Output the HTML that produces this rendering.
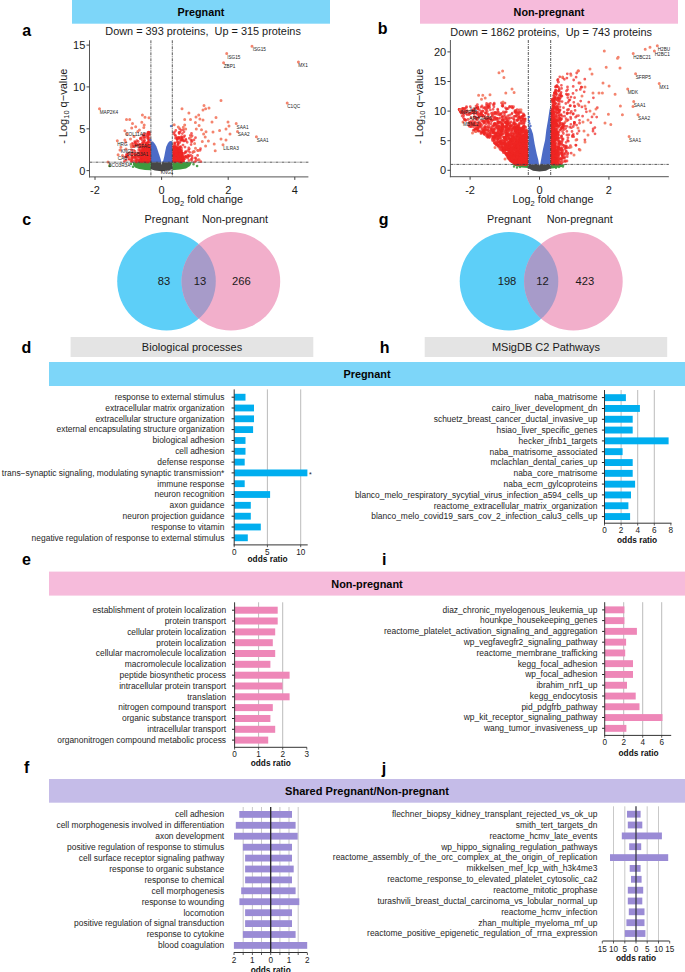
<!DOCTYPE html>
<html><head><meta charset="utf-8"><style>
html,body{margin:0;padding:0;background:#fff;}
body{width:685px;height:972px;overflow:hidden;}
svg{display:block;}
text{font-family:"Liberation Sans",sans-serif;}
</style></head><body>
<svg width="685" height="972" viewBox="0 0 685 972" font-family="Liberation Sans">
<rect width="685" height="972" fill="#fff"/>
<rect x="72.0" y="0.0" width="258.0" height="23.7" fill="#7dd6f9"/>
<text x="201.0" y="15.8" font-size="10.8" text-anchor="middle" font-weight="bold" fill="#050505" >Pregnant</text>
<rect x="420.0" y="0.0" width="258.0" height="23.7" fill="#f6bbdb"/>
<text x="549.0" y="15.8" font-size="10.8" text-anchor="middle" font-weight="bold" fill="#050505" >Non-pregnant</text>
<text x="22.3" y="35.5" font-size="16" text-anchor="start" font-weight="bold" fill="#000" >a</text>
<text x="377.7" y="34.2" font-size="16" text-anchor="start" font-weight="bold" fill="#000" >b</text>
<text x="22.3" y="224.8" font-size="16" text-anchor="start" font-weight="bold" fill="#000" >c</text>
<text x="378.7" y="225.0" font-size="16" text-anchor="start" font-weight="bold" fill="#000" >g</text>
<text x="21.4" y="352.8" font-size="16" text-anchor="start" font-weight="bold" fill="#000" >d</text>
<text x="379.7" y="352.6" font-size="16" text-anchor="start" font-weight="bold" fill="#000" >h</text>
<text x="21.9" y="565.2" font-size="16" text-anchor="start" font-weight="bold" fill="#000" >e</text>
<text x="382.1" y="565.2" font-size="16" text-anchor="start" font-weight="bold" fill="#000" >i</text>
<text x="24.0" y="772.6" font-size="16" text-anchor="start" font-weight="bold" fill="#000" >f</text>
<text x="381.8" y="773.6" font-size="16" text-anchor="start" font-weight="bold" fill="#000" >j</text>
<polygon points="150.9,162.2 161.2,162.2 161.7,165.0 162.2,162.2 172.3,162.2 172.3,169.3 168.0,170.5 161.5,171.2 155.0,170.5 150.9,169.3" fill="#474747"/>
<polygon points="150.9,141.5 153.0,141.5 155.0,144.0 156.4,146.4 158.0,151.0 159.7,156.3 161.0,160.5 161.3,162.2 150.9,162.2" fill="#4c6bc6"/>
<polygon points="162.0,162.2 163.3,160.5 164.3,156.3 165.3,151.0 166.3,146.4 168.0,143.0 169.6,141.2 171.0,141.0 172.3,141.5 172.3,162.2" fill="#4c6bc6"/>
<polygon points="139.0,162.2 139.5,153.0 142.0,148.0 146.0,145.0 150.9,144.0 150.9,162.2" fill="#ee1d24"/>
<polygon points="172.3,162.2 172.3,146.0 176.0,146.0 180.0,148.0 183.0,152.0 185.0,162.2" fill="#ee1d24"/>
<polygon points="133.0,162.2 150.9,162.2 150.9,170.2 145.0,170.0 139.0,169.0 135.0,167.5 133.0,165.0" fill="#3d9a3f"/>
<polygon points="172.3,162.2 192.0,162.2 190.0,166.0 186.0,168.5 180.0,169.5 172.3,170.2" fill="#3d9a3f"/>
<g stroke="#ef2522" stroke-width="2.8" stroke-linecap="round" stroke-opacity="0.72" fill="none">
<path d="M142.7 153.3h0M148.2 139.6h0M136.0 158.2h0M148.5 134.0h0M134.7 141.6h0M142.5 156.1h0M135.5 153.9h0M147.6 150.7h0M148.7 132.2h0M132.5 161.0h0M142.5 142.9h0M143.4 134.9h0M132.6 144.4h0M143.2 154.3h0M146.6 156.6h0M145.0 152.8h0M143.2 159.4h0M140.6 138.2h0M149.4 149.3h0M149.0 158.8h0M142.6 153.9h0M132.6 152.8h0M145.5 157.8h0M147.8 148.8h0M143.8 141.9h0"/>
<path d="M142.9 144.2h0M127.0 156.5h0M136.9 140.7h0M142.8 151.4h0M139.2 144.9h0M144.0 134.2h0M131.4 149.8h0M134.8 157.2h0M146.7 151.7h0M124.4 161.4h0M149.4 132.5h0M142.2 140.2h0M140.1 145.0h0M145.6 134.0h0M147.8 157.3h0M147.5 151.6h0M146.2 153.4h0M145.4 152.5h0M143.3 147.9h0M148.4 134.1h0M132.8 146.6h0M146.4 159.9h0M141.2 154.8h0M146.4 143.4h0M143.0 160.1h0"/>
<path d="M133.7 150.3h0M148.8 145.8h0M142.5 147.3h0M132.0 153.0h0M148.1 149.6h0M140.0 149.8h0M132.8 146.5h0M149.4 133.7h0M148.3 161.6h0M143.1 144.6h0M138.2 155.8h0M145.2 152.9h0M135.8 161.6h0M131.6 155.1h0M148.8 158.5h0M149.1 140.2h0M126.9 154.3h0M144.2 158.5h0M140.6 147.2h0M141.0 151.3h0M141.3 138.0h0M137.3 145.1h0M148.3 132.8h0M149.0 148.2h0M139.1 161.1h0"/>
<path d="M144.2 146.8h0M135.9 145.6h0M147.9 132.7h0M145.9 144.9h0M140.6 155.0h0M145.7 149.0h0M126.4 154.9h0M147.5 138.0h0M148.3 157.4h0M147.6 151.2h0M148.0 162.1h0M142.9 142.9h0M148.7 159.1h0M136.6 162.0h0M132.0 156.8h0M148.5 149.5h0M129.4 159.4h0M127.1 155.1h0M140.3 138.8h0M139.5 160.3h0M140.1 157.0h0M144.1 137.2h0M135.5 142.2h0M146.4 146.7h0M134.7 157.5h0"/>
<path d="M148.7 161.6h0M144.8 152.7h0M140.0 160.3h0M132.3 157.0h0M138.2 141.5h0M145.7 155.8h0M143.5 149.2h0M143.9 159.3h0M138.0 152.8h0M136.0 159.6h0M140.1 147.0h0M140.9 151.9h0M147.6 136.1h0M143.7 154.7h0M143.3 152.2h0M145.9 155.1h0M147.8 145.3h0M142.3 147.9h0M138.8 156.3h0M128.1 157.0h0M146.5 155.2h0M142.3 161.9h0M145.3 161.5h0M143.6 146.8h0M147.0 157.4h0"/>
<path d="M149.7 142.3h0M146.9 143.2h0M146.2 158.4h0M142.1 156.0h0M138.4 153.1h0M131.6 159.0h0M147.2 142.6h0M135.8 156.9h0M149.1 140.7h0M146.3 152.4h0M148.3 149.5h0M136.8 160.2h0M145.9 153.5h0M144.5 153.3h0M146.2 147.2h0M138.9 160.6h0M146.6 150.4h0M146.4 152.3h0M146.5 151.4h0M139.5 160.6h0M145.2 148.8h0M145.0 162.0h0M145.7 160.7h0M147.1 144.8h0M126.2 160.0h0"/>
<path d="M147.3 162.0h0M140.2 144.4h0M149.0 153.0h0M131.3 161.6h0M146.5 144.1h0M146.9 155.9h0M128.9 158.8h0M146.8 143.9h0M129.2 153.2h0M132.1 154.8h0M149.6 152.4h0M142.2 161.5h0M135.6 144.0h0M138.2 156.5h0M134.6 160.6h0M146.5 144.4h0M144.1 146.4h0M145.7 150.6h0M126.7 156.3h0M138.7 149.9h0M139.0 147.6h0M145.6 155.8h0M142.9 154.5h0M135.0 154.7h0M128.2 153.9h0"/>
<path d="M148.1 146.4h0M135.1 143.1h0M149.6 148.7h0M132.4 143.3h0M138.9 144.6h0M148.4 160.7h0M148.1 137.3h0M148.7 146.9h0M145.8 150.9h0M149.2 160.4h0M143.9 159.6h0M145.1 160.4h0M135.4 154.2h0M147.1 161.8h0M144.7 149.2h0M146.2 156.3h0M146.9 152.4h0M149.4 153.7h0M148.0 137.8h0M149.0 157.7h0M144.9 154.5h0M145.3 157.3h0M147.7 150.1h0M127.2 156.6h0M144.6 140.3h0"/>
<path d="M135.5 155.7h0M144.5 156.7h0M145.2 156.6h0M131.4 160.3h0M143.4 152.9h0M132.0 159.1h0M140.0 161.9h0M147.2 157.1h0M137.2 155.6h0M148.2 142.3h0M146.2 159.3h0M137.4 155.7h0M148.6 132.4h0M145.2 142.8h0M134.4 146.5h0M144.4 152.6h0M143.7 158.9h0M144.2 140.9h0M140.2 150.8h0M144.9 136.5h0M140.1 152.8h0M148.7 155.1h0M143.2 153.7h0M147.7 152.0h0M143.1 152.1h0"/>
<path d="M143.6 137.9h0M141.8 149.8h0M147.3 135.6h0M138.1 158.4h0M144.5 137.9h0M149.2 154.6h0M147.7 134.5h0M149.3 138.3h0M146.6 158.7h0M149.6 158.8h0M134.9 154.3h0M147.5 136.3h0M136.3 145.1h0M148.0 143.4h0M146.1 155.6h0M133.4 157.5h0M142.8 135.8h0M135.0 151.4h0M136.8 144.4h0M147.8 134.9h0M143.7 155.2h0M145.3 159.9h0M148.2 142.6h0M136.6 143.8h0M142.2 145.8h0"/>
<path d="M145.8 159.6h0M143.7 157.5h0M149.5 153.6h0M148.7 157.8h0M124.6 157.1h0M149.4 135.2h0M137.4 160.2h0M147.1 147.2h0M141.8 157.1h0M127.2 156.5h0"/>
</g>
<g stroke="#f26f55" stroke-width="3.0" stroke-linecap="round" stroke-opacity="0.85" fill="none">
<path d="M137.8 131.5h0M134.0 136.5h0M135.7 126.7h0M142.4 115.0h0M122.5 155.6h0M131.7 127.9h0M108.0 162.0h0M143.8 127.5h0M149.0 117.7h0M124.9 139.9h0M139.4 129.9h0M129.7 157.6h0M118.1 154.8h0M117.3 140.7h0M144.2 125.1h0M131.3 146.8h0M130.5 139.1h0M120.0 150.0h0M141.8 122.3h0M126.0 149.0h0M127.0 134.0h0M145.0 117.2h0M132.5 123.6h0M125.7 141.9h0M120.9 147.2h0"/>
<path d="M99.5 108.8h0M126.5 119.5h0M129.7 119.5h0M130.9 144.4h0M124.9 130.7h0"/>
</g>
<g stroke="#ef2522" stroke-width="2.8" stroke-linecap="round" stroke-opacity="0.72" fill="none">
<path d="M183.2 160.1h0M177.9 154.6h0M185.6 151.6h0M178.2 156.0h0M181.6 155.8h0M174.8 158.2h0M177.3 157.8h0M174.8 145.8h0M180.3 139.7h0M176.4 152.1h0M177.4 153.1h0M180.4 149.8h0M174.5 132.1h0M184.6 157.5h0M186.5 157.3h0M192.2 140.7h0M182.5 140.2h0M195.4 157.8h0M177.5 147.2h0M194.0 139.9h0M174.9 143.3h0M185.1 158.5h0M180.0 147.1h0M174.0 146.6h0M181.1 162.2h0"/>
<path d="M178.1 142.4h0M186.1 140.5h0M176.3 153.7h0M183.8 136.9h0M179.6 159.4h0M179.7 156.2h0M181.9 138.4h0M175.6 135.8h0M175.0 159.1h0M174.6 142.8h0M181.6 160.5h0M175.5 149.0h0M185.0 147.1h0M177.4 156.1h0M176.1 158.5h0M174.8 155.9h0M183.7 153.4h0M175.6 151.2h0M180.2 147.5h0M179.5 161.8h0M176.7 138.5h0M185.7 156.6h0M181.7 158.0h0M192.3 158.2h0M177.4 160.3h0"/>
<path d="M180.6 146.6h0M183.0 145.1h0M186.0 152.2h0M176.3 158.7h0M178.9 155.4h0M188.7 149.8h0M191.5 142.0h0M187.8 150.6h0M176.9 150.9h0M189.1 155.9h0M184.5 140.9h0M188.4 150.6h0M175.4 146.7h0M192.0 156.2h0M191.3 159.2h0M182.9 158.2h0M178.3 150.7h0M190.7 155.4h0M175.9 150.4h0M179.2 133.6h0M174.0 150.3h0M195.5 137.7h0M178.7 137.9h0M181.0 151.1h0M177.4 139.1h0"/>
<path d="M176.3 159.3h0M175.2 161.3h0M187.7 156.4h0M182.4 139.0h0M191.1 144.6h0M181.6 162.0h0M189.3 148.8h0M178.3 160.7h0M185.8 139.1h0M177.2 158.7h0M188.8 148.0h0M180.4 157.6h0M179.8 142.4h0M181.0 130.5h0M186.0 156.6h0M179.1 147.9h0M183.5 129.6h0M192.1 135.8h0M197.6 150.4h0M176.0 150.6h0M177.6 145.2h0M178.8 137.5h0M177.1 137.4h0M188.9 160.5h0M181.4 130.1h0"/>
<path d="M175.8 161.4h0M173.7 145.4h0M182.7 156.0h0M174.6 144.5h0M182.2 158.0h0M183.6 140.9h0M183.9 159.2h0M180.9 158.0h0M195.8 158.7h0M177.5 138.9h0M174.6 156.9h0M180.6 155.0h0M182.3 133.6h0M184.0 131.8h0M191.5 133.5h0M191.0 140.1h0M173.9 160.2h0M175.8 158.2h0M179.9 151.2h0M176.6 153.5h0M179.6 128.7h0M174.0 158.0h0M187.9 158.0h0M190.3 135.4h0M181.9 137.5h0"/>
<path d="M189.7 152.3h0M173.9 150.5h0M179.1 137.9h0M179.3 159.1h0M179.6 132.3h0M181.8 139.8h0M180.3 154.6h0M179.0 132.6h0M175.5 138.2h0M181.5 148.2h0M177.8 157.4h0M185.3 156.5h0M189.1 155.8h0M173.6 133.5h0M200.5 148.7h0M192.7 152.5h0M174.8 148.5h0M177.1 138.8h0M178.2 144.4h0M179.1 161.2h0M181.6 136.6h0M196.0 160.8h0M178.8 160.1h0M189.3 138.3h0M177.4 154.6h0"/>
<path d="M174.9 152.4h0M175.8 130.4h0M177.0 142.0h0M179.2 160.3h0M181.0 153.3h0M194.5 162.0h0M178.3 143.3h0M191.6 160.5h0M180.6 154.7h0M174.7 162.1h0M187.8 155.2h0M183.6 158.6h0M175.0 135.0h0M176.0 158.2h0M180.6 137.6h0M180.1 153.7h0M180.4 158.4h0M184.9 153.0h0M200.1 150.3h0M177.3 140.9h0M179.4 132.3h0M181.1 140.4h0M200.8 161.7h0M198.2 159.9h0M194.3 151.7h0"/>
<path d="M184.7 135.8h0M197.6 155.4h0M187.2 142.3h0M181.7 150.4h0M175.9 155.1h0"/>
</g>
<g stroke="#f26f55" stroke-width="3.0" stroke-linecap="round" stroke-opacity="0.85" fill="none">
<path d="M219.6 130.5h0M185.7 128.9h0M228.0 122.0h0M223.6 62.8h0M205.2 137.1h0M199.1 125.5h0M221.0 100.5h0M205.6 108.8h0M230.0 134.0h0M193.5 151.4h0M226.7 53.6h0M215.2 150.8h0M204.0 105.5h0M178.3 126.9h0M188.9 113.1h0M209.0 108.0h0M205.6 145.9h0M213.0 132.0h0M216.0 117.5h0M184.7 119.5h0M214.2 144.0h0M202.3 141.4h0M212.0 122.0h0M196.0 117.0h0M199.9 119.0h0"/>
<path d="M174.2 124.7h0M199.1 159.8h0M208.4 141.1h0M256.4 136.7h0M182.0 108.8h0M191.0 137.0h0M190.5 119.5h0M206.0 131.7h0M203.0 110.0h0M201.5 129.7h0M237.5 131.4h0M203.6 134.1h0M198.3 150.4h0M226.0 129.0h0M221.0 139.0h0M226.0 140.0h0M252.0 46.3h0M223.0 144.8h0M198.7 114.9h0M194.6 143.4h0M195.4 122.5h0M298.4 62.0h0M196.3 128.9h0M183.3 127.3h0M203.0 120.0h0"/>
<path d="M184.7 124.9h0M229.0 126.0h0M236.2 123.5h0M195.5 148.2h0M287.2 103.0h0"/>
</g>
<g stroke="#3d9a3f" stroke-width="2.6" stroke-linecap="round" stroke-opacity="0.9" fill="none">
<path d="M133.0 166.8h0M197.1 166.0h0M188.7 164.3h0M131.0 164.0h0M193.5 164.3h0M109.6 166.0h0"/>
</g>
<g stroke="#4c6bc6" stroke-width="2.4" stroke-linecap="round" stroke-opacity="0.9" fill="none">
<path d="M150.5 140.0h0M171.0 126.1h0"/>
</g>
<text x="252.7" y="51.3" font-size="4.7" text-anchor="start" fill="#222" >ISG15</text>
<text x="227.2" y="58.7" font-size="4.7" text-anchor="start" fill="#222" >ISG15</text>
<text x="223.7" y="67.8" font-size="4.7" text-anchor="start" fill="#222" >ZBP1</text>
<text x="298.2" y="67.0" font-size="4.7" text-anchor="start" fill="#222" >MX1</text>
<text x="287.2" y="108.1" font-size="4.7" text-anchor="start" fill="#222" >C1QC</text>
<text x="236.5" y="128.5" font-size="4.7" text-anchor="start" fill="#222" >SAA1</text>
<text x="237.7" y="136.4" font-size="4.7" text-anchor="start" fill="#222" >SAA2</text>
<text x="256.7" y="141.7" font-size="4.7" text-anchor="start" fill="#222" >SAA1</text>
<text x="223.2" y="149.8" font-size="4.7" text-anchor="start" fill="#222" >LILRA3</text>
<text x="99.7" y="114.0" font-size="4.7" text-anchor="start" fill="#222" >MAP2K4</text>
<text x="125.2" y="136.4" font-size="4.7" text-anchor="start" fill="#222" >COL11A2</text>
<text x="117.2" y="146.0" font-size="4.7" text-anchor="start" fill="#222" >HRG</text>
<text x="134.2" y="148.0" font-size="4.7" text-anchor="start" fill="#222" >HGFAC</text>
<text x="120.7" y="152.5" font-size="4.7" text-anchor="start" fill="#222" >KNG1</text>
<text x="126.7" y="155.5" font-size="4.7" text-anchor="start" fill="#222" >SCGB3A1</text>
<text x="117.7" y="160.0" font-size="4.7" text-anchor="start" fill="#222" >CA8</text>
<text x="108.4" y="167.3" font-size="4.7" text-anchor="start" fill="#222" >BCO3R3A</text>
<text x="160.7" y="174.1" font-size="4.7" text-anchor="start" fill="#222" >KNG1</text>
<line x1="150.9" y1="40.3" x2="150.9" y2="176.9" stroke="#3a3a3a" stroke-width="0.85" stroke-dasharray="3,1,1,1"/>
<line x1="172.3" y1="40.3" x2="172.3" y2="176.9" stroke="#3a3a3a" stroke-width="0.85" stroke-dasharray="3,1,1,1"/>
<line x1="89.5" y1="162.2" x2="308.4" y2="162.2" stroke="#3a3a3a" stroke-width="0.85" stroke-dasharray="3,1,1,1"/>
<line x1="89.5" y1="40.3" x2="89.5" y2="177.4" stroke="#555" stroke-width="1" />
<line x1="89.0" y1="176.9" x2="308.4" y2="176.9" stroke="#555" stroke-width="1" />
<line x1="86.5" y1="170.6" x2="89.5" y2="170.6" stroke="#444" stroke-width="1" />
<text x="85.3" y="174.5" font-size="11" text-anchor="end" fill="#1a1a1a" >0</text>
<line x1="86.5" y1="128.8" x2="89.5" y2="128.8" stroke="#444" stroke-width="1" />
<text x="85.3" y="132.7" font-size="11" text-anchor="end" fill="#1a1a1a" >5</text>
<line x1="86.5" y1="86.9" x2="89.5" y2="86.9" stroke="#444" stroke-width="1" />
<text x="85.3" y="90.8" font-size="11" text-anchor="end" fill="#1a1a1a" >10</text>
<line x1="86.5" y1="45.1" x2="89.5" y2="45.1" stroke="#444" stroke-width="1" />
<text x="85.3" y="49.0" font-size="11" text-anchor="end" fill="#1a1a1a" >15</text>
<line x1="95.0" y1="176.9" x2="95.0" y2="179.9" stroke="#444" stroke-width="1" />
<text x="95.0" y="193.7" font-size="11" text-anchor="middle" fill="#1a1a1a" >-2</text>
<line x1="161.6" y1="176.9" x2="161.6" y2="179.9" stroke="#444" stroke-width="1" />
<text x="161.6" y="193.7" font-size="11" text-anchor="middle" fill="#1a1a1a" >0</text>
<line x1="228.2" y1="176.9" x2="228.2" y2="179.9" stroke="#444" stroke-width="1" />
<text x="228.2" y="193.7" font-size="11" text-anchor="middle" fill="#1a1a1a" >2</text>
<line x1="294.8" y1="176.9" x2="294.8" y2="179.9" stroke="#444" stroke-width="1" />
<text x="294.8" y="193.7" font-size="11" text-anchor="middle" fill="#1a1a1a" >4</text>
<text x="0" y="0" font-size="11" text-anchor="middle" fill="#1a1a1a" transform="translate(67.2,106.2) rotate(-90)">- Log<tspan font-size="7.5" dy="1.5">10</tspan><tspan dy="-1.5"> q−value</tspan></text>
<text x="202.5" y="203.2" font-size="10.8" text-anchor="middle" fill="#1a1a1a">Log<tspan font-size="7.5" dy="2.5">2</tspan><tspan dy="-2.5"> fold change</tspan></text>
<text x="105.3" y="35.0" font-size="10.9" fill="#1a1a1a" xml:space="preserve">Down = 393 proteins,  Up = 315 proteins</text>
<polygon points="528.4,164.4 538.9,164.4 539.5,165.5 540.1,164.4 550.6,164.4 550.6,168.2 546.0,170.8 539.5,171.6 533.0,170.8 528.4,168.2" fill="#474747"/>
<polygon points="528.4,125.0 529.8,126.5 531.5,129.5 533.0,134.0 534.7,144.3 536.8,154.2 538.3,160.0 539.0,164.4 528.4,164.4" fill="#4c6bc6"/>
<polygon points="540.2,164.4 541.0,160.0 542.8,150.0 545.1,140.0 546.3,130.0 548.0,120.0 549.5,110.0 550.6,105.6 550.6,164.4" fill="#4c6bc6"/>
<polygon points="521.0,152.0 523.0,140.0 525.5,134.0 527.6,132.0 527.6,164.4 520.0,164.4" fill="#ee1d24"/>
<polygon points="550.6,164.4 550.6,110.0 552.5,110.0 554.0,120.0 555.0,140.0 556.0,164.4" fill="#ee1d24"/>
<polygon points="512.0,164.4 528.4,164.4 528.4,168.0 522.0,167.5 515.0,166.0" fill="#3d9a3f"/>
<polygon points="550.6,164.4 566.0,164.4 562.0,166.5 556.0,168.0 550.6,168.5" fill="#3d9a3f"/>
<g stroke="#ef2522" stroke-width="2.8" stroke-linecap="round" stroke-opacity="0.72" fill="none">
<path d="M519.9 146.9h0M526.9 164.0h0M519.5 127.8h0M526.4 142.9h0M486.6 105.1h0M498.6 130.4h0M516.2 128.0h0M498.5 122.5h0M495.5 134.1h0M523.9 135.1h0M495.6 128.3h0M526.3 132.8h0M497.0 136.4h0M525.7 157.7h0M508.8 137.9h0M471.6 113.1h0M522.0 150.6h0M514.0 137.0h0M500.0 138.1h0M484.7 122.2h0M517.6 162.3h0M526.2 141.3h0M472.7 110.1h0M523.0 127.3h0M525.2 156.5h0"/>
<path d="M499.6 128.0h0M506.0 131.2h0M525.2 160.1h0M487.9 122.3h0M521.7 141.1h0M499.5 133.5h0M521.2 145.3h0M506.6 144.8h0M524.1 145.3h0M507.2 134.3h0M515.3 130.9h0M509.8 158.4h0M520.9 155.1h0M513.5 155.7h0M514.7 159.5h0M520.0 123.6h0M480.9 111.4h0M524.1 135.9h0M519.3 148.1h0M476.6 120.2h0M526.0 155.6h0M513.2 155.6h0M526.9 159.9h0M520.2 156.2h0M515.5 142.0h0"/>
<path d="M519.5 119.0h0M523.8 114.9h0M513.3 156.1h0M510.7 156.5h0M487.5 119.6h0M516.4 116.3h0M519.3 164.1h0M466.5 106.7h0M489.5 105.7h0M507.5 156.3h0M525.5 153.4h0M509.2 153.4h0M518.9 129.9h0M523.8 147.9h0M505.0 138.2h0M506.2 143.5h0M524.4 161.4h0M525.5 156.7h0M483.7 130.5h0M522.6 157.6h0M521.5 144.6h0M504.9 142.1h0M509.7 143.7h0M509.7 125.8h0M516.8 142.6h0"/>
<path d="M520.2 162.3h0M508.3 152.9h0M523.6 161.6h0M520.6 155.2h0M525.6 133.2h0M520.0 128.3h0M520.0 158.1h0M516.0 131.8h0M524.6 164.2h0M501.1 127.6h0M515.8 142.9h0M487.6 137.3h0M522.0 146.4h0M494.6 112.3h0M505.3 137.9h0M518.6 128.3h0M524.5 157.5h0M509.1 118.5h0M488.2 134.8h0M511.7 151.8h0M495.5 118.8h0M510.3 158.1h0M517.6 162.7h0M510.3 125.9h0M520.9 149.8h0"/>
<path d="M486.1 110.6h0M523.7 137.5h0M518.1 157.4h0M518.3 163.9h0M522.8 149.0h0M508.4 153.7h0M526.4 130.1h0M515.6 162.6h0M517.5 161.4h0M518.2 153.6h0M526.3 162.3h0M509.0 159.0h0M515.4 164.1h0M523.7 155.6h0M509.1 144.9h0M522.9 154.2h0M526.9 151.0h0M494.4 118.3h0M519.7 160.9h0M512.4 141.5h0M518.4 159.2h0M512.5 141.6h0M524.1 145.0h0M520.5 163.1h0M494.0 139.9h0"/>
<path d="M497.5 114.4h0M500.6 144.3h0M513.3 154.1h0M525.7 142.8h0M508.5 155.7h0M498.0 121.7h0M464.5 110.9h0M488.1 132.4h0M521.7 157.2h0M522.7 158.6h0M517.0 126.4h0M510.6 158.2h0M507.8 127.6h0M488.7 106.5h0M525.2 164.3h0M517.5 152.1h0M512.9 108.1h0M517.5 120.1h0M478.3 130.9h0M490.4 133.3h0M514.1 163.5h0M524.9 149.2h0M502.6 124.7h0M505.7 138.7h0M502.0 127.7h0"/>
<path d="M521.9 150.3h0M519.2 157.3h0M500.2 134.9h0M516.2 113.6h0M502.8 125.5h0M516.9 150.6h0M517.9 149.4h0M523.1 160.1h0M519.0 161.3h0M514.4 121.8h0M487.1 134.1h0M507.0 145.2h0M512.0 159.5h0M518.1 162.7h0M519.4 161.8h0M520.3 150.4h0M460.4 112.0h0M478.3 131.0h0M526.6 147.4h0M522.6 120.8h0M523.3 161.7h0M505.6 143.3h0M517.0 164.2h0M516.9 141.4h0M514.6 139.7h0"/>
<path d="M524.2 123.0h0M523.7 158.9h0M521.8 153.4h0M486.7 135.9h0M525.9 161.3h0M486.4 136.0h0M519.9 158.1h0M506.8 155.4h0M521.5 130.1h0M511.8 129.8h0M524.5 156.6h0M524.1 129.4h0M505.5 111.9h0M524.6 153.6h0M527.0 137.8h0M515.0 155.5h0M487.4 136.5h0M519.8 134.7h0M514.8 161.1h0M466.5 107.6h0M517.8 152.6h0M525.3 149.1h0M526.6 160.7h0M522.7 162.7h0M511.8 107.6h0"/>
<path d="M522.8 163.6h0M523.6 155.1h0M510.5 153.5h0M501.5 142.4h0M517.6 146.4h0M519.5 138.5h0M522.5 158.9h0M524.5 162.5h0M519.0 140.9h0M523.4 155.9h0M526.1 150.1h0M464.6 108.8h0M502.0 147.2h0M525.6 157.3h0M518.5 155.8h0M509.2 150.6h0M510.7 149.4h0M518.8 162.3h0M519.1 162.2h0M524.4 160.3h0M523.3 152.3h0M525.3 159.4h0M507.6 129.0h0M488.6 104.2h0M526.2 132.2h0"/>
<path d="M512.0 140.3h0M525.4 152.2h0M523.8 128.7h0M513.7 158.4h0M518.5 145.9h0M510.8 156.6h0M525.8 155.6h0M526.6 146.9h0M507.1 123.6h0M501.2 131.4h0M522.3 144.6h0M517.4 159.7h0M516.6 154.3h0M523.7 151.2h0M525.3 133.3h0M523.5 148.9h0M503.8 139.7h0M484.9 133.1h0M474.2 130.1h0M504.0 143.0h0M515.6 160.5h0M525.4 164.2h0M484.7 127.1h0M512.8 144.1h0M518.3 150.0h0"/>
<path d="M520.8 141.0h0M508.7 142.5h0M518.4 161.0h0M522.5 156.3h0M512.1 159.6h0M502.1 129.3h0M524.1 126.3h0M499.8 121.9h0M511.6 148.0h0M493.7 138.2h0M512.8 151.0h0M527.0 158.3h0M525.7 163.5h0M497.6 144.9h0M525.2 159.4h0M517.2 162.7h0M520.3 162.7h0M521.5 136.1h0M525.9 157.9h0M519.3 133.3h0M494.3 142.9h0M496.0 126.9h0M501.5 113.4h0M504.4 138.3h0M486.6 129.8h0"/>
<path d="M502.0 144.5h0M524.3 163.4h0M517.1 160.1h0M523.5 147.3h0M522.3 152.0h0M478.3 125.5h0M473.2 130.4h0M518.6 148.2h0M520.3 145.2h0M516.4 155.2h0M514.7 126.8h0M518.8 142.6h0M481.0 107.1h0M526.2 162.5h0M512.2 152.1h0M461.1 112.0h0M506.9 108.8h0M526.2 136.2h0M513.2 152.0h0M514.7 159.2h0M523.1 141.7h0M492.5 113.0h0M526.6 130.6h0M525.4 147.5h0M517.7 153.2h0"/>
<path d="M525.1 120.9h0M526.8 133.0h0M524.2 142.5h0M527.1 156.8h0M516.2 145.8h0M475.9 108.4h0M518.2 159.3h0M523.7 160.9h0M520.5 138.7h0M512.9 137.7h0M473.8 124.0h0M471.3 126.6h0M497.3 143.7h0M501.0 131.2h0M522.9 132.1h0M518.3 162.5h0M519.2 162.3h0M521.8 155.3h0M506.5 136.2h0M515.0 147.5h0M507.6 149.3h0M512.7 153.7h0M517.7 164.1h0M517.0 159.9h0M526.1 153.9h0"/>
<path d="M502.1 133.1h0M501.5 135.7h0M525.7 152.7h0M525.3 150.0h0M505.6 140.4h0M497.7 109.2h0M498.4 136.6h0M519.1 126.3h0M503.7 148.3h0M478.7 117.3h0M466.4 113.9h0M480.2 124.9h0M484.7 131.3h0M525.7 150.7h0M526.5 135.7h0M513.3 162.5h0M523.7 153.3h0M509.7 154.5h0M522.3 148.2h0M523.5 155.0h0M496.1 133.3h0M501.6 131.2h0M488.4 118.3h0M484.2 122.7h0M516.0 159.2h0"/>
<path d="M469.0 114.6h0M502.5 147.7h0M505.8 126.8h0M517.5 157.8h0M516.3 140.7h0M521.1 147.9h0M524.5 161.0h0M526.9 136.3h0M508.9 156.3h0M497.9 142.3h0M511.3 157.3h0M498.0 121.9h0M525.6 161.0h0M483.4 132.0h0M485.2 118.4h0M515.1 144.7h0M478.8 114.1h0M525.4 164.3h0M477.9 129.3h0M523.3 139.5h0M508.1 108.5h0M474.7 122.4h0M515.1 111.6h0M525.3 153.3h0M523.9 149.2h0"/>
<path d="M489.2 118.6h0M517.3 135.9h0M513.4 153.2h0M527.0 155.5h0M518.2 146.5h0M512.8 154.3h0M483.5 130.0h0M477.6 107.8h0M473.3 111.8h0M510.0 139.2h0M513.8 148.9h0M521.8 146.1h0M514.3 161.7h0M502.6 150.9h0M496.8 133.5h0M485.0 116.4h0M510.8 158.6h0M524.4 134.6h0M508.3 156.3h0M514.2 149.1h0M518.6 112.1h0M487.5 121.9h0M512.4 131.4h0M497.3 125.4h0M494.1 130.3h0"/>
<path d="M517.7 130.2h0M519.7 143.5h0M480.4 126.7h0M507.6 121.0h0M525.7 148.3h0M516.4 156.8h0M477.4 104.7h0M525.7 160.3h0M510.2 150.4h0M509.0 156.1h0M477.8 107.3h0M514.1 127.5h0M523.6 138.9h0M475.1 122.6h0M517.6 151.1h0M507.1 129.9h0M506.5 109.1h0M521.2 120.7h0M489.0 121.6h0M524.0 164.4h0M525.7 142.5h0M509.5 130.0h0M526.1 162.1h0M508.5 157.5h0M504.0 149.3h0"/>
<path d="M521.3 155.1h0M490.2 136.4h0M488.9 136.9h0M522.4 163.3h0M519.0 161.9h0M516.3 139.3h0M525.1 145.0h0M525.6 146.8h0M477.2 119.0h0M510.2 152.3h0M506.9 154.7h0M520.3 136.9h0M510.6 135.8h0M501.9 131.3h0M523.3 148.7h0M524.0 142.6h0M523.4 160.3h0M523.6 143.7h0M484.0 128.2h0M517.3 151.8h0M521.9 152.5h0M499.9 129.7h0M508.8 136.7h0M514.3 153.2h0M525.1 146.0h0"/>
<path d="M508.2 146.8h0M476.3 125.9h0M464.9 119.8h0M509.4 147.5h0M491.4 128.8h0M517.4 120.7h0M502.6 150.1h0M499.7 136.3h0M508.8 145.5h0M494.4 141.4h0M521.0 130.9h0M525.7 164.2h0M520.5 159.0h0M523.7 144.2h0M517.4 155.5h0M482.8 121.0h0M518.7 151.7h0M523.8 122.4h0M498.6 122.0h0M487.3 111.3h0M495.5 138.3h0M525.2 140.7h0M501.6 143.7h0M522.2 159.2h0M521.6 153.9h0"/>
<path d="M502.9 105.9h0M504.5 152.8h0M523.4 163.6h0M513.8 156.6h0M502.0 123.9h0M471.8 124.0h0M514.1 154.6h0M475.9 123.7h0M510.2 145.2h0M525.7 160.5h0M513.5 147.4h0M506.7 154.4h0M521.7 141.7h0M502.0 120.0h0M507.8 148.6h0M518.2 145.8h0M503.3 148.5h0M505.5 147.3h0M505.9 117.0h0M510.4 135.1h0M515.5 149.3h0M485.3 129.6h0M527.0 158.4h0M521.4 164.1h0M520.9 157.6h0"/>
<path d="M515.0 146.2h0M508.0 148.6h0M465.0 108.5h0M474.9 129.3h0M509.6 115.1h0M512.6 159.3h0M506.2 148.0h0M523.4 136.0h0M460.0 110.9h0M523.9 156.4h0M524.4 150.4h0M522.8 160.7h0M510.1 141.3h0M518.4 127.6h0M505.8 149.0h0M514.2 162.4h0M514.3 122.9h0M521.1 159.8h0M517.1 109.6h0M511.2 155.0h0M498.8 138.1h0M526.4 155.6h0M522.5 163.2h0M507.5 149.8h0M525.7 161.4h0"/>
<path d="M517.3 138.5h0M493.3 132.1h0M518.0 151.3h0M518.8 152.9h0M486.4 118.6h0M489.3 126.5h0M501.8 116.0h0M517.8 145.6h0M487.8 126.4h0M524.1 115.2h0M520.7 154.8h0M483.7 123.4h0M524.2 162.1h0M504.8 137.4h0M521.4 156.7h0M493.7 128.7h0M514.9 131.2h0M502.4 141.0h0M505.0 141.1h0M522.0 139.6h0M517.6 136.0h0M505.2 122.6h0M510.2 142.3h0M523.5 163.6h0M480.2 131.2h0"/>
<path d="M516.3 152.7h0M480.0 126.1h0M517.0 136.7h0M525.4 140.4h0M488.3 119.5h0M525.8 154.5h0M523.5 139.9h0M517.1 112.0h0M481.4 114.4h0M518.8 157.5h0M523.0 151.6h0M506.6 153.5h0M497.9 110.1h0M519.3 123.3h0M524.7 149.4h0M507.4 123.4h0M521.4 118.2h0M497.5 128.8h0M513.0 147.7h0M493.2 132.9h0M518.4 159.4h0M514.9 158.8h0M526.0 145.0h0M475.5 129.2h0M525.0 153.1h0"/>
<path d="M518.7 114.2h0M520.8 160.6h0M498.6 112.5h0M520.0 160.7h0M526.9 141.6h0M521.7 134.8h0M521.3 146.3h0M526.5 145.5h0M510.8 145.1h0M519.5 155.1h0M524.8 152.5h0M505.3 152.7h0M524.7 154.6h0M504.2 126.8h0M520.3 157.3h0M520.0 140.7h0M490.7 119.4h0M526.9 145.3h0M516.3 161.5h0M505.6 149.4h0M520.8 132.5h0M520.0 163.2h0M504.5 112.8h0M510.3 138.6h0M512.4 148.8h0"/>
<path d="M494.7 136.6h0M526.4 156.0h0M525.0 160.6h0M526.5 163.7h0M470.0 123.7h0M494.3 131.7h0M512.2 161.9h0M526.7 154.3h0M524.9 140.1h0M513.3 144.1h0M515.6 156.9h0M518.4 161.7h0M527.0 163.7h0M525.5 158.1h0M511.7 114.1h0M523.3 119.0h0M495.2 113.7h0M515.2 143.4h0M524.3 119.1h0M491.8 130.3h0M523.3 155.5h0M511.3 155.2h0M493.5 131.4h0M524.1 120.3h0M506.5 119.0h0"/>
<path d="M510.6 143.9h0M524.7 160.5h0M518.3 152.7h0M523.2 157.4h0M490.4 103.4h0M505.9 123.7h0M519.1 150.4h0M518.0 158.4h0M459.2 109.5h0M515.7 110.4h0M506.2 154.4h0M495.6 112.4h0M483.2 115.9h0M514.9 146.7h0M520.8 161.3h0M520.1 163.5h0M508.5 156.9h0M525.1 143.9h0M487.8 136.0h0M478.9 121.7h0M507.6 157.6h0M489.4 134.1h0M517.2 141.9h0M511.0 144.1h0M511.0 155.6h0"/>
<path d="M521.3 161.9h0M514.4 153.4h0M521.8 153.5h0M522.5 136.9h0M516.0 148.9h0M520.9 152.7h0M515.6 147.2h0M507.5 149.9h0M521.2 162.0h0M488.5 130.4h0M524.6 156.4h0M515.3 131.5h0M505.6 153.7h0M507.7 155.0h0M502.8 103.9h0M502.0 126.3h0M520.5 117.2h0M523.9 158.3h0M507.3 121.8h0M519.9 150.0h0M483.2 121.5h0M519.3 110.0h0M517.3 142.3h0M463.4 113.2h0M510.0 154.5h0"/>
<path d="M503.1 148.7h0M522.3 150.3h0M525.5 162.5h0M470.7 126.6h0M509.9 156.1h0M510.7 133.1h0M516.6 149.4h0M485.4 107.2h0M520.8 129.5h0M516.0 147.6h0M503.0 133.8h0M471.8 125.3h0M518.7 164.4h0M521.8 163.4h0M525.3 161.9h0M524.0 155.2h0M508.4 142.5h0M493.9 113.8h0M519.9 156.0h0M510.1 151.8h0M511.2 141.4h0M526.0 137.4h0M518.5 161.5h0M522.5 136.0h0M515.9 124.0h0"/>
<path d="M519.1 159.1h0M493.2 104.7h0M515.1 148.5h0M489.6 107.6h0M477.8 127.9h0M520.8 150.3h0M510.7 151.4h0M481.0 133.6h0M524.6 161.9h0M506.4 146.8h0M502.0 128.3h0M522.2 152.9h0M514.6 160.5h0M513.2 148.1h0M469.3 122.4h0M503.9 140.9h0M479.2 116.5h0M508.2 149.3h0M516.1 140.8h0M516.3 161.9h0M514.2 123.5h0M508.8 128.8h0M498.4 123.3h0M508.5 158.3h0M471.2 113.1h0"/>
<path d="M509.2 144.6h0M525.8 147.1h0M482.0 105.8h0M521.5 158.9h0M515.8 149.4h0M509.4 150.8h0M500.9 134.5h0M506.1 138.6h0M513.9 161.0h0M499.7 147.2h0M521.0 142.7h0M507.1 134.7h0M469.5 126.4h0M510.3 139.5h0M487.6 127.7h0M517.6 153.7h0M498.9 134.0h0M524.4 157.6h0M525.9 158.8h0M470.2 106.6h0M499.6 130.0h0M523.3 158.0h0M519.1 142.3h0M460.3 111.2h0M497.7 135.4h0"/>
<path d="M523.7 150.6h0M510.4 118.0h0M525.0 134.6h0M516.0 127.4h0M505.0 103.1h0M524.5 157.2h0M523.9 159.3h0M510.7 160.7h0M521.6 154.5h0M513.5 122.8h0M518.6 159.3h0M526.5 157.5h0M498.4 145.4h0M514.8 130.1h0M513.6 133.1h0M506.5 121.9h0M501.2 134.6h0M525.7 164.4h0M482.0 132.6h0M495.3 123.9h0M516.5 135.2h0M520.2 162.5h0M475.7 128.6h0M477.5 112.4h0M509.9 147.1h0"/>
<path d="M525.7 146.3h0M523.8 153.9h0M525.5 136.0h0M518.4 161.2h0M520.4 160.4h0M494.6 124.2h0M525.0 143.8h0M509.0 148.1h0M503.9 148.5h0M518.9 161.7h0M477.0 130.4h0M509.7 146.5h0M520.7 136.6h0M515.8 154.1h0M525.3 130.7h0M525.4 138.0h0M511.7 125.1h0M515.8 151.3h0M479.4 126.3h0M474.0 109.0h0M525.0 163.0h0M524.2 150.7h0M526.4 162.6h0M523.2 153.1h0M503.3 111.9h0"/>
<path d="M515.3 159.4h0M514.1 119.8h0M487.2 135.1h0M477.3 111.9h0M523.6 157.1h0M522.3 156.3h0M502.7 149.5h0M517.6 124.8h0M518.9 117.2h0M486.5 120.1h0M509.3 153.8h0M506.1 153.4h0M503.3 152.5h0M526.4 150.7h0M517.5 150.1h0M512.2 136.5h0M511.7 106.3h0M524.3 163.2h0M512.1 136.5h0M488.2 136.1h0M505.9 133.1h0M502.5 143.2h0M517.9 148.0h0M523.3 158.9h0M509.9 146.8h0"/>
<path d="M514.4 160.6h0M511.5 153.7h0M519.4 150.0h0M501.4 148.2h0M508.7 147.5h0M523.4 147.9h0M523.4 160.4h0M515.8 151.3h0M514.3 139.2h0M473.3 120.5h0M505.4 118.5h0M505.2 146.1h0M496.3 144.6h0M482.1 129.7h0M504.6 144.3h0M523.7 160.2h0M516.1 130.2h0M485.0 126.5h0M496.8 119.8h0M509.8 157.5h0M498.0 145.6h0M513.1 158.6h0M512.3 136.0h0M523.0 129.6h0M499.5 115.0h0"/>
<path d="M515.4 144.9h0M509.3 152.7h0M487.7 120.8h0M507.8 154.8h0M492.4 126.2h0M473.7 110.8h0M506.3 126.5h0M516.7 152.7h0M511.8 148.0h0M515.2 148.5h0M506.8 140.2h0M524.9 142.5h0M505.5 150.2h0M515.3 162.3h0M496.6 134.8h0M513.5 135.8h0M509.9 155.8h0M525.1 139.5h0M521.9 128.4h0M499.4 142.1h0M512.2 158.2h0M515.8 112.4h0M514.9 137.6h0M492.7 140.8h0M523.0 154.0h0"/>
<path d="M514.6 154.3h0M502.2 129.3h0M477.7 114.7h0M481.9 125.5h0M521.4 147.3h0M502.0 126.3h0M488.3 114.1h0M517.2 146.9h0M511.9 143.9h0M523.7 153.9h0M505.1 133.5h0M522.3 158.4h0M517.8 126.9h0M517.8 148.0h0M520.6 138.3h0M526.9 151.5h0M485.5 108.9h0M525.2 157.4h0M495.3 136.7h0M518.1 152.5h0M525.9 141.5h0M508.8 130.8h0M526.1 163.2h0M510.0 122.8h0M462.6 109.3h0"/>
<path d="M521.7 122.8h0M521.9 148.1h0M506.4 111.8h0M516.3 155.7h0M525.1 159.1h0M493.2 131.8h0M518.3 154.7h0M502.9 128.2h0M524.2 157.8h0M525.8 138.0h0M518.9 138.6h0M493.6 133.4h0M520.9 158.2h0M516.8 145.3h0M520.1 134.5h0M508.5 123.1h0M525.2 136.0h0M523.6 155.9h0M477.7 107.2h0M513.2 128.0h0M526.2 131.7h0M511.5 161.5h0M511.9 136.9h0M518.8 145.8h0M521.6 161.9h0"/>
<path d="M525.5 147.4h0M521.7 140.1h0M525.6 135.8h0M525.9 138.0h0M516.0 160.8h0M463.7 115.5h0M506.2 126.8h0M516.9 164.3h0M500.8 113.8h0M509.2 128.9h0M472.1 123.0h0M521.2 142.0h0M524.8 154.0h0M517.5 154.1h0M512.0 154.0h0M520.6 145.0h0M522.5 131.8h0M523.9 163.8h0M489.6 131.6h0M517.4 133.0h0M519.7 148.6h0M518.0 129.4h0M502.7 106.3h0M505.5 122.5h0M465.8 120.4h0"/>
<path d="M512.2 157.4h0M518.9 142.7h0M525.3 148.6h0M519.6 128.1h0M488.3 115.5h0M511.0 122.0h0M514.1 116.5h0M492.6 138.2h0M524.2 151.5h0M495.2 123.4h0M523.0 128.7h0M516.1 162.2h0M523.4 160.2h0M519.7 163.1h0M518.5 163.6h0M516.3 160.4h0M459.5 109.7h0M482.6 115.2h0M491.4 121.6h0M522.1 150.4h0M505.9 150.2h0M466.8 111.7h0M520.2 118.2h0M517.9 130.9h0M523.0 157.2h0"/>
<path d="M517.5 137.0h0M500.4 141.4h0M511.5 142.2h0M517.3 150.7h0M507.6 124.4h0M516.1 161.3h0M525.9 153.7h0M518.8 133.3h0M511.5 158.1h0M464.9 119.7h0M503.0 147.0h0M504.6 121.8h0M511.3 160.8h0M515.6 162.8h0M526.1 161.5h0M506.1 148.1h0M521.9 123.6h0M524.2 157.7h0M510.7 156.7h0M526.1 158.7h0M465.5 119.9h0M526.3 155.0h0M525.8 163.8h0M519.8 159.9h0M526.7 155.7h0"/>
<path d="M526.5 159.7h0M518.9 125.2h0M522.4 161.7h0M502.5 119.8h0M522.1 164.2h0M526.3 148.2h0M515.2 164.1h0M510.0 139.8h0M526.1 163.2h0M515.7 159.7h0M509.1 142.0h0M486.0 132.6h0M505.4 137.4h0M499.6 142.0h0M478.0 108.7h0M493.0 136.7h0M523.1 139.4h0M512.4 129.1h0M515.8 127.8h0M511.8 133.6h0M525.2 147.1h0M510.9 143.6h0M520.8 149.2h0M519.3 130.6h0M477.7 124.3h0"/>
<path d="M516.8 147.4h0M482.6 111.0h0M488.1 107.7h0M519.7 145.4h0M508.5 121.0h0M511.1 149.5h0M521.4 141.0h0M504.1 137.6h0M505.5 107.8h0M525.8 158.2h0M480.2 123.1h0M520.4 140.0h0M520.7 146.7h0M502.6 124.3h0M514.1 160.2h0M509.4 145.9h0M516.6 120.2h0M518.7 156.3h0M520.4 163.4h0M525.2 154.4h0M519.2 149.6h0M474.2 114.2h0M515.9 156.6h0M484.4 108.1h0M500.0 132.3h0"/>
<path d="M497.5 139.6h0M516.0 133.0h0M521.3 142.3h0M491.2 119.8h0M512.0 141.4h0M519.2 163.2h0M526.9 153.9h0M514.8 147.9h0M492.8 136.9h0M521.1 145.2h0M509.6 106.4h0M510.1 145.9h0M514.6 124.6h0M517.5 151.6h0M522.5 127.8h0M524.5 132.3h0M526.3 161.2h0M514.2 160.9h0M498.0 139.3h0M495.2 143.9h0M526.8 153.1h0M525.4 150.2h0M522.7 155.4h0M513.3 145.3h0M493.5 125.8h0"/>
<path d="M524.0 137.9h0M525.8 161.9h0M491.6 131.1h0M515.4 162.4h0M513.8 148.0h0M522.2 161.8h0M516.7 129.9h0M515.9 136.5h0M525.5 133.6h0M519.9 131.9h0M525.5 127.7h0M521.7 141.6h0M507.2 143.9h0M523.3 141.2h0M482.1 131.9h0M526.2 160.1h0M500.0 134.6h0M526.5 153.6h0M525.7 127.5h0M513.8 161.5h0M515.4 137.4h0M481.1 112.8h0M500.9 131.8h0M517.7 130.8h0M526.0 133.3h0"/>
<path d="M510.9 149.1h0M523.8 143.0h0M468.7 125.3h0M463.4 113.6h0M509.2 148.2h0M503.6 143.5h0M521.8 159.4h0M522.8 134.5h0M514.8 130.2h0M522.7 141.8h0M510.7 159.5h0M516.9 126.1h0M512.2 138.6h0M523.5 126.3h0M474.8 125.3h0M515.2 139.8h0M523.1 150.7h0M498.5 118.8h0M525.5 137.1h0M515.0 112.2h0M459.8 109.6h0M485.4 121.1h0M520.8 147.9h0M508.8 134.2h0M499.7 144.0h0"/>
<path d="M473.1 124.9h0M519.5 139.8h0M525.2 147.9h0M518.5 149.4h0M508.0 135.6h0M495.3 133.3h0M500.9 149.9h0M513.1 154.3h0M522.3 116.4h0M503.8 131.7h0M526.2 161.6h0M516.3 157.5h0M525.4 161.7h0M521.0 152.7h0M524.9 159.5h0M525.1 140.1h0M519.1 140.0h0M506.4 148.5h0M523.5 159.8h0M517.3 161.2h0M523.6 142.3h0M518.9 146.5h0M520.1 141.7h0M516.6 163.0h0M513.8 141.4h0"/>
<path d="M517.3 164.0h0M491.4 113.5h0M526.4 136.6h0M519.0 139.3h0M489.5 137.5h0M490.8 132.8h0M509.0 148.2h0M500.8 122.1h0M507.5 153.9h0M490.5 135.5h0M523.5 163.2h0M523.0 115.9h0M459.1 109.4h0M499.5 142.6h0M522.9 155.7h0M504.2 137.0h0M483.6 131.0h0M494.5 125.2h0M519.0 133.5h0M516.2 159.5h0M517.9 119.8h0M519.3 131.6h0M516.7 155.7h0M527.0 136.7h0M508.3 147.6h0"/>
<path d="M512.5 153.7h0M494.2 104.3h0M491.3 117.3h0M515.6 137.5h0M523.9 145.3h0M501.9 123.7h0M523.6 155.3h0M518.5 113.1h0M512.2 140.4h0M519.2 158.8h0M516.7 158.9h0M512.2 159.9h0M514.0 133.9h0M516.5 132.8h0M494.9 132.8h0M516.3 143.5h0M518.4 133.4h0M512.2 113.1h0M525.2 154.1h0M463.2 112.0h0M505.7 131.5h0M506.9 137.5h0M511.6 139.7h0M506.5 123.1h0M526.0 163.4h0"/>
<path d="M525.5 154.2h0M474.3 112.4h0M504.5 144.0h0M516.5 149.0h0M521.5 132.8h0M513.4 158.3h0M461.3 113.2h0M520.7 162.6h0M520.7 121.2h0M494.7 136.9h0M493.9 106.8h0M515.7 153.8h0M517.6 141.6h0M521.2 147.9h0M521.7 162.2h0M524.4 135.2h0M517.9 161.7h0M518.2 161.3h0M522.1 156.1h0M474.3 117.0h0M519.8 162.2h0M523.1 149.7h0M489.0 127.8h0M500.4 122.8h0M519.9 159.6h0"/>
<path d="M518.5 152.9h0M513.9 118.9h0M500.9 130.7h0M522.0 147.5h0M486.3 130.1h0M521.8 156.7h0M506.4 135.5h0M525.7 148.6h0M525.5 161.4h0M497.6 132.6h0M516.8 144.0h0M509.8 134.8h0M525.3 160.7h0M510.7 134.1h0M492.3 139.4h0M501.7 146.5h0M482.4 116.6h0M491.3 129.0h0M461.5 110.9h0M521.4 155.9h0M481.7 128.2h0M512.4 155.7h0M508.3 142.7h0M480.9 132.3h0M505.0 144.9h0"/>
<path d="M502.8 121.6h0M509.7 155.1h0M526.4 150.3h0M518.9 153.0h0M518.9 136.6h0M525.6 162.5h0M523.2 160.7h0M509.9 149.2h0M521.9 129.5h0M526.2 131.6h0M493.1 109.3h0M467.3 114.7h0M519.2 140.3h0M517.7 162.7h0M504.1 149.6h0M526.8 154.7h0M510.2 160.4h0M513.0 160.6h0M524.3 148.0h0M484.0 133.6h0M476.0 106.1h0M514.3 153.0h0M501.8 143.1h0M488.8 122.5h0M524.3 163.3h0"/>
<path d="M523.9 159.5h0M503.3 137.1h0M469.7 114.2h0M503.0 143.1h0M476.0 128.4h0M519.3 164.1h0M513.5 123.9h0M511.7 150.7h0M506.2 128.0h0M515.0 153.9h0M501.9 143.7h0M523.8 162.5h0M518.3 155.9h0M521.9 138.1h0M525.1 155.6h0M518.3 147.0h0M524.4 160.8h0M513.8 149.0h0M502.6 124.5h0M480.6 123.9h0M510.0 148.0h0M516.1 132.5h0M522.2 144.6h0M525.7 159.8h0M486.4 113.1h0"/>
<path d="M520.3 159.7h0M512.3 150.6h0M526.1 151.0h0M512.9 156.9h0M518.1 152.5h0M515.0 127.5h0M519.2 144.4h0M521.9 147.8h0M521.2 112.4h0M510.7 150.0h0M483.1 107.6h0M516.5 115.8h0M502.4 116.8h0M516.9 152.6h0M521.0 159.0h0M522.8 119.4h0M504.8 129.3h0M520.7 149.2h0M526.3 158.6h0M520.7 142.4h0M521.1 145.5h0M496.4 141.8h0M513.8 146.1h0M497.9 139.0h0M520.7 162.4h0"/>
<path d="M488.2 105.8h0M496.4 124.1h0M523.7 161.1h0M471.1 118.0h0M510.3 158.5h0M520.2 159.7h0M523.8 160.8h0M523.8 140.3h0M509.7 107.1h0M517.1 139.0h0M498.3 128.9h0M508.8 128.4h0M512.8 160.6h0M498.8 147.2h0M513.4 158.6h0M523.9 159.3h0M497.7 131.1h0M526.6 163.9h0M502.4 134.1h0M513.0 140.7h0M525.1 118.8h0M502.5 117.4h0M508.8 147.9h0M491.0 123.8h0M506.9 133.2h0"/>
<path d="M464.3 119.4h0M516.2 139.4h0M517.9 130.9h0M498.6 135.9h0M511.1 146.0h0M493.0 132.7h0M523.9 161.0h0M526.0 162.5h0M517.5 149.8h0M492.5 120.1h0M527.0 148.7h0M522.1 158.5h0M503.1 151.1h0M522.3 116.5h0M495.7 125.3h0M481.5 120.7h0M508.0 132.0h0M526.7 163.3h0M503.2 125.6h0M520.4 162.1h0M512.0 148.1h0M520.6 159.0h0M525.9 162.0h0M522.8 117.9h0M523.6 131.3h0"/>
<path d="M513.5 146.1h0M518.7 163.8h0M515.1 159.8h0M507.7 149.8h0M507.8 138.4h0M508.6 152.1h0M517.8 144.5h0M524.2 150.4h0M520.8 147.1h0M515.1 116.2h0M526.4 156.9h0M515.8 160.6h0M526.2 142.7h0M518.9 161.2h0M515.0 163.5h0M501.5 103.0h0M509.6 149.9h0M507.0 131.8h0M519.8 144.7h0M517.1 143.2h0M523.0 130.3h0M525.0 126.7h0M469.5 112.9h0M491.5 127.6h0M523.6 149.4h0"/>
<path d="M501.7 130.1h0M497.1 138.0h0M514.9 144.2h0M526.9 154.3h0M522.7 160.1h0M509.3 143.3h0M506.4 129.3h0M521.7 142.9h0M517.1 163.7h0M522.6 151.9h0M491.2 130.4h0M460.6 109.8h0M519.6 138.0h0M480.3 113.7h0M514.4 134.4h0M511.1 143.9h0M516.9 150.5h0M510.6 139.0h0M505.1 138.6h0M486.1 127.5h0M506.8 153.5h0M498.6 134.1h0M522.1 154.9h0M526.5 136.5h0M494.9 139.5h0"/>
<path d="M523.5 149.1h0M515.1 124.5h0M523.3 113.8h0M505.9 148.6h0M507.0 125.7h0M500.0 149.0h0M490.5 135.4h0M518.3 142.7h0M494.9 117.0h0M524.8 135.5h0M518.0 155.7h0M525.9 139.2h0M471.4 121.6h0M515.2 159.1h0M522.4 152.0h0M487.8 118.3h0M510.7 140.2h0M496.6 143.6h0M515.7 156.9h0M523.0 127.1h0M525.5 141.0h0M519.6 157.7h0M518.9 141.9h0M522.0 142.2h0M524.1 131.3h0"/>
<path d="M523.1 151.9h0M522.8 159.7h0M514.6 150.1h0M475.3 131.6h0M526.5 153.9h0M465.5 112.1h0M512.9 159.2h0M514.0 142.6h0M481.6 113.4h0M492.5 115.3h0M504.3 149.5h0M523.5 143.6h0M518.2 118.0h0M522.1 152.1h0M494.7 137.7h0M486.3 123.9h0M520.7 151.8h0M519.7 139.0h0M483.4 131.2h0M493.1 136.3h0M523.9 161.9h0M518.5 158.3h0M518.4 153.3h0M506.3 134.9h0M523.5 157.7h0"/>
<path d="M519.1 145.1h0M523.8 145.4h0M507.6 135.0h0M523.6 158.8h0M522.9 157.7h0M522.4 162.0h0M521.2 164.4h0M513.0 156.8h0M523.4 156.8h0M493.6 117.3h0M498.0 125.9h0M521.2 157.2h0M494.1 123.7h0M492.2 115.6h0M524.2 164.0h0M523.6 141.2h0M514.5 158.9h0M508.8 135.8h0M508.0 155.8h0M504.5 114.6h0M517.3 141.2h0M521.9 129.1h0M512.9 134.1h0M506.4 122.6h0M518.1 148.5h0"/>
<path d="M511.2 126.1h0M463.1 108.5h0M497.5 118.3h0M508.1 145.5h0M519.8 149.7h0M494.6 119.8h0M522.9 147.7h0M488.3 130.2h0M521.1 137.9h0M521.9 161.3h0M504.4 137.8h0M519.6 133.7h0M521.5 151.4h0M485.3 112.8h0M517.9 154.0h0M512.3 117.9h0M507.6 118.5h0M527.0 156.3h0M512.3 159.2h0M521.8 138.7h0M504.7 150.4h0M482.9 115.5h0M468.0 119.5h0M516.0 160.5h0M476.9 118.1h0"/>
<path d="M524.6 162.1h0M520.0 160.8h0M506.7 126.1h0M515.3 149.9h0M513.8 142.8h0M523.5 152.2h0M521.2 147.5h0M519.3 158.0h0M504.8 146.1h0M504.3 116.3h0M460.1 110.3h0M511.1 150.7h0M517.7 152.7h0M503.9 119.7h0M520.8 157.6h0M493.8 138.2h0M523.0 161.7h0M523.9 149.6h0M525.4 145.5h0M511.3 158.2h0M481.1 114.9h0M512.7 140.8h0M511.4 155.0h0M511.3 147.6h0M485.7 113.4h0"/>
<path d="M526.2 135.6h0M525.6 161.4h0M496.5 118.1h0M520.9 139.9h0M473.5 127.1h0M500.1 125.6h0M526.5 153.2h0M504.5 150.4h0M509.5 156.2h0M478.5 128.2h0M487.1 106.7h0M508.0 149.8h0M524.6 158.1h0M523.4 143.3h0M467.0 110.6h0M520.8 141.6h0M522.0 154.2h0M505.2 143.0h0M517.9 160.8h0M518.4 161.6h0M515.2 160.8h0M510.3 126.5h0M508.1 155.9h0M526.8 149.7h0M518.1 155.7h0"/>
<path d="M512.2 149.3h0M526.0 153.6h0M516.8 156.1h0M486.6 103.5h0M515.9 152.8h0M515.6 143.2h0M509.1 159.2h0M523.1 141.7h0M514.6 144.3h0M477.8 127.0h0M527.0 141.1h0M513.5 157.8h0M495.3 135.0h0M524.4 162.7h0M526.6 159.2h0M490.4 109.9h0M476.6 129.9h0M519.4 151.9h0M505.7 146.9h0M511.6 139.9h0M507.1 135.7h0M523.8 156.9h0M526.0 139.0h0M517.5 128.3h0M505.8 147.7h0"/>
<path d="M520.7 144.4h0M502.1 105.7h0M518.3 154.0h0M523.5 157.5h0M516.3 127.2h0M521.6 130.9h0M510.6 155.6h0M525.8 133.6h0M524.9 153.0h0M472.7 124.4h0M494.4 129.4h0M511.6 153.1h0M498.9 126.5h0M522.6 145.9h0M526.3 151.9h0M523.3 151.7h0M521.8 150.3h0M524.9 162.0h0M513.5 128.2h0M515.4 161.6h0M515.8 162.3h0M524.0 161.5h0M526.5 150.2h0M502.7 120.0h0M523.8 124.7h0"/>
<path d="M497.5 141.4h0M516.8 157.5h0M504.2 126.6h0M525.1 159.2h0M519.3 143.8h0M514.2 138.6h0M500.2 135.5h0M525.8 154.1h0M514.3 144.6h0M509.4 138.8h0M512.8 147.6h0M462.5 108.4h0M523.5 161.1h0M508.4 150.2h0M521.7 155.1h0M514.8 150.6h0M524.3 148.7h0M501.9 146.7h0M502.6 128.6h0M509.0 147.0h0M507.7 133.7h0M521.6 129.0h0M513.5 106.7h0M470.3 122.0h0M518.4 162.1h0"/>
<path d="M524.9 149.1h0M476.0 118.2h0M500.5 140.2h0M525.5 154.1h0M510.1 128.3h0M487.2 108.8h0M519.4 149.8h0M514.0 163.2h0M498.0 132.2h0M507.8 123.3h0M511.8 158.3h0M500.1 118.2h0M517.9 134.9h0M524.6 158.1h0M494.4 123.9h0M484.3 134.1h0M501.3 130.7h0M510.2 154.2h0M524.3 115.9h0M521.3 148.7h0M526.8 140.7h0M524.4 158.8h0M513.7 161.3h0M525.1 119.1h0M515.7 127.9h0"/>
<path d="M526.9 162.4h0M497.7 122.7h0M500.5 141.4h0M521.2 162.9h0M506.5 129.9h0M514.3 163.0h0M506.6 120.6h0M526.9 160.5h0M521.3 132.4h0M520.1 164.3h0M525.5 163.2h0M517.2 157.0h0M525.3 149.4h0M520.6 136.0h0M511.0 160.9h0M518.8 148.3h0M520.6 139.4h0M508.5 147.2h0M496.2 113.4h0M497.8 139.4h0M520.9 137.2h0M523.7 156.1h0M474.8 112.6h0M495.4 136.1h0M511.8 159.2h0"/>
<path d="M521.2 159.7h0M520.1 112.2h0M521.4 161.8h0M514.0 126.5h0M525.2 163.6h0M518.3 125.9h0M509.9 145.7h0M509.0 139.4h0M519.3 116.3h0M478.8 123.1h0M524.1 163.4h0M507.1 140.2h0M511.4 149.0h0M518.1 146.1h0M500.9 137.9h0M508.2 125.2h0M484.0 120.9h0M523.5 160.0h0M525.0 163.9h0M512.2 152.4h0M501.8 140.4h0M518.8 147.9h0M525.1 158.2h0M513.0 161.7h0M474.7 116.9h0"/>
<path d="M498.4 127.9h0M498.5 122.3h0M494.6 136.7h0M483.8 133.8h0M519.7 130.1h0M497.6 145.8h0M522.9 143.0h0M493.7 125.3h0M514.6 153.7h0M524.0 155.3h0M499.8 127.3h0M518.4 160.3h0M484.6 134.6h0M517.5 114.7h0M476.9 128.6h0M516.5 135.1h0M518.5 163.2h0M496.9 136.4h0M516.9 133.5h0M506.1 126.8h0M517.0 153.3h0M472.5 110.8h0M523.5 155.9h0M496.3 144.7h0M516.0 142.9h0"/>
<path d="M523.1 131.4h0M521.0 163.3h0M513.3 136.4h0M515.2 162.5h0M522.7 131.5h0M506.3 147.2h0M503.6 144.4h0M479.5 116.0h0M494.2 103.2h0M523.3 151.5h0M517.3 135.6h0M525.7 153.3h0M511.3 128.3h0M484.7 128.6h0M512.5 152.7h0M509.1 154.3h0M514.9 110.9h0M477.8 108.6h0M512.5 139.2h0M514.3 128.8h0M517.1 142.7h0M519.0 161.6h0M521.3 151.9h0M521.1 136.2h0M518.0 149.3h0"/>
<path d="M526.6 133.6h0M513.6 158.2h0M506.7 148.6h0M525.2 160.2h0M503.2 119.9h0M473.7 112.0h0M499.8 114.5h0M503.9 147.8h0M526.9 149.6h0M494.7 142.8h0M523.0 148.0h0M497.1 127.2h0M518.3 163.4h0M520.0 155.1h0M523.2 128.3h0M525.0 150.8h0M522.7 152.3h0M523.8 159.2h0M507.1 134.6h0M515.8 150.3h0M517.1 154.0h0M515.0 143.0h0M524.3 140.9h0M521.0 135.8h0M477.1 113.7h0"/>
<path d="M517.2 154.8h0M507.4 144.7h0M525.4 156.8h0M523.6 154.1h0M521.5 137.3h0M462.1 115.9h0M512.8 137.8h0M497.5 112.1h0M489.0 124.1h0M522.4 150.0h0M496.7 118.4h0M525.6 150.9h0M520.8 146.6h0M463.3 117.5h0M519.2 159.6h0M519.5 136.0h0M527.0 156.4h0M526.6 154.7h0M525.9 157.4h0M521.5 141.1h0M507.9 116.0h0M519.7 162.4h0M511.2 131.2h0M500.1 142.1h0M493.1 129.6h0"/>
<path d="M515.6 130.0h0M511.5 150.6h0M503.2 130.4h0M509.6 124.2h0M476.3 118.1h0M479.4 109.8h0M524.7 152.5h0M492.8 120.0h0M522.9 137.3h0M483.1 111.4h0M509.7 151.2h0M500.1 145.5h0M523.3 140.5h0M511.7 125.9h0M522.7 157.9h0"/>
</g>
<g stroke="#f26f55" stroke-width="3.0" stroke-linecap="round" stroke-opacity="0.85" fill="none">
<path d="M505.0 159.0h0M521.0 109.7h0M485.2 98.1h0M481.5 99.2h0M490.0 94.8h0M478.6 95.2h0M502.6 70.9h0M482.8 95.2h0M512.0 88.9h0M503.0 102.0h0M460.2 109.7h0M495.0 147.5h0M476.0 131.5h0M503.9 77.5h0M463.0 122.0h0M505.8 93.1h0M472.5 133.0h0M499.0 72.7h0M514.1 92.6h0"/>
</g>
<g stroke="#ef2522" stroke-width="2.8" stroke-linecap="round" stroke-opacity="0.72" fill="none">
<path d="M553.6 148.5h0M558.5 101.4h0M555.4 159.6h0M554.2 98.8h0M554.4 126.8h0M555.9 120.2h0M585.8 108.8h0M562.4 155.5h0M553.2 113.0h0M553.9 139.9h0M554.4 149.7h0M557.0 146.6h0M553.0 100.6h0M555.1 122.6h0M595.0 133.8h0M555.7 152.1h0M562.9 150.4h0M557.3 158.0h0M552.8 121.2h0M563.0 124.8h0M555.6 91.5h0M555.0 119.1h0M562.3 127.5h0M566.9 78.1h0M553.0 105.5h0"/>
<path d="M552.0 158.0h0M576.0 145.3h0M552.2 152.6h0M560.3 119.0h0M559.2 141.0h0M556.3 94.9h0M556.4 158.6h0M562.9 156.5h0M552.4 141.0h0M552.1 125.9h0M552.8 135.5h0M563.1 139.0h0M555.8 129.5h0M553.5 117.2h0M564.8 122.7h0M552.2 109.7h0M558.8 146.0h0M552.0 160.7h0M555.3 93.7h0M554.0 122.9h0M557.4 153.4h0M553.1 154.9h0M555.4 145.7h0M564.5 158.1h0M552.0 120.4h0"/>
<path d="M563.7 153.7h0M553.6 100.4h0M559.7 110.2h0M552.9 154.0h0M570.4 145.6h0M552.4 133.5h0M555.7 135.2h0M573.7 80.0h0M559.5 117.5h0M565.8 148.1h0M559.1 149.2h0M555.2 137.9h0M565.3 161.6h0M555.7 133.0h0M553.6 128.3h0M552.7 153.8h0M559.7 149.4h0M553.9 157.7h0M569.6 147.5h0M552.3 160.2h0M553.9 112.6h0M552.9 111.1h0M566.9 131.3h0M554.4 147.7h0M557.7 120.0h0"/>
<path d="M552.9 159.9h0M552.4 156.4h0M555.6 103.3h0M553.5 158.8h0M556.3 125.4h0M552.6 144.3h0M555.3 97.5h0M552.8 147.2h0M579.2 149.4h0M578.9 83.0h0M566.1 118.7h0M554.0 119.0h0M551.9 130.7h0M554.4 93.2h0M557.7 86.6h0M558.6 164.2h0M552.8 134.7h0M564.7 157.0h0M567.5 86.9h0M564.6 154.5h0M581.2 87.2h0M560.6 153.3h0M554.0 122.0h0M553.1 151.3h0M582.6 116.2h0"/>
<path d="M554.2 120.7h0M555.2 162.3h0M561.2 158.9h0M572.0 131.5h0M555.1 134.4h0M567.3 73.8h0M560.0 98.8h0M555.2 144.8h0M556.1 93.2h0M571.2 153.2h0M553.5 152.3h0M558.1 144.3h0M552.1 128.6h0M567.6 147.8h0M552.1 117.4h0M553.7 159.7h0M552.3 110.7h0M554.2 140.9h0M562.0 149.5h0M554.1 146.8h0M557.3 131.9h0M556.0 155.7h0M552.1 109.2h0M553.8 101.2h0M558.7 112.4h0"/>
<path d="M559.2 98.5h0M552.4 134.5h0M579.0 105.5h0M563.4 161.6h0M567.0 126.3h0M557.5 80.3h0M552.3 120.4h0M565.4 153.2h0M555.7 143.0h0M555.4 138.9h0M593.1 128.9h0M554.0 157.3h0M552.8 121.3h0M553.3 158.3h0M562.6 161.4h0M553.2 163.4h0M561.4 136.3h0M559.3 115.6h0M562.2 141.0h0M560.9 115.2h0M553.0 113.6h0M554.0 144.7h0M552.6 101.9h0M553.8 155.4h0M561.2 128.2h0"/>
<path d="M584.2 91.8h0M558.3 98.1h0M555.6 117.3h0M557.5 109.9h0M552.7 141.9h0M559.6 96.2h0M560.0 101.3h0M552.2 124.7h0M594.9 127.6h0M554.7 160.0h0M558.1 148.8h0M552.3 128.9h0M553.2 164.2h0M553.7 158.0h0M553.0 105.2h0M575.6 117.2h0M552.1 148.5h0M552.3 161.2h0M560.3 97.4h0M560.9 151.5h0M558.5 142.5h0M554.8 122.3h0M556.9 152.2h0M584.8 79.2h0M553.6 122.8h0"/>
<path d="M555.1 149.4h0M554.6 135.3h0M555.8 164.3h0M553.9 150.0h0M559.2 126.0h0M568.1 119.9h0M552.5 162.6h0M559.9 130.1h0M555.3 92.8h0M553.7 99.0h0M555.7 158.3h0M566.3 94.1h0M553.3 156.8h0M553.4 159.5h0M555.0 106.3h0M554.2 117.6h0M559.1 115.2h0M551.9 112.6h0M561.9 148.5h0M553.5 157.6h0M558.7 119.7h0M554.1 144.7h0M558.2 98.4h0M552.6 163.5h0M597.3 107.7h0"/>
<path d="M552.7 134.6h0M554.8 98.1h0M573.7 136.7h0M562.0 155.3h0M562.1 101.6h0M552.8 151.8h0M569.0 100.5h0M553.3 146.4h0M553.4 163.0h0M553.3 163.5h0M553.6 158.2h0M560.9 95.4h0M556.4 119.9h0M579.0 131.0h0M574.6 97.7h0M567.9 137.7h0M567.6 89.6h0M554.1 162.2h0M554.5 134.7h0M556.3 154.8h0M552.9 108.2h0M554.6 147.5h0M557.7 135.6h0M554.4 131.2h0M553.0 163.1h0"/>
<path d="M556.1 109.7h0M553.5 101.3h0M552.9 153.7h0M552.1 163.2h0M552.5 161.5h0M567.4 109.9h0M574.2 124.3h0M557.4 149.2h0M554.8 144.9h0M568.1 102.3h0M552.6 142.7h0M556.8 161.8h0M556.0 86.4h0M555.8 138.7h0M562.2 127.4h0M553.2 140.3h0M553.1 141.5h0M555.8 160.6h0M558.1 147.3h0M562.3 151.6h0M563.5 126.9h0M590.8 122.7h0M557.6 107.3h0M554.4 147.3h0M565.2 160.7h0"/>
<path d="M552.1 149.2h0M553.7 157.6h0M552.7 151.0h0M563.5 107.7h0M554.9 115.7h0M558.7 118.2h0M555.1 135.6h0M573.8 102.3h0M558.7 148.0h0M553.3 144.8h0M593.4 97.8h0M579.6 123.2h0M553.4 144.7h0M561.8 142.7h0M552.6 162.1h0M567.4 112.9h0M559.2 110.9h0M562.2 158.9h0M557.9 149.8h0M552.4 155.2h0M560.0 122.8h0M554.0 114.5h0M556.6 125.5h0M552.5 131.5h0M555.5 90.2h0"/>
<path d="M568.4 94.5h0M562.5 139.3h0M553.9 138.3h0M553.1 115.2h0M552.9 150.7h0M554.5 147.1h0M559.8 76.8h0M554.7 152.2h0M560.9 163.9h0M554.4 136.8h0M563.5 123.9h0M568.9 134.8h0M577.3 133.6h0M552.1 159.7h0M558.6 90.8h0M557.6 113.1h0M554.7 104.1h0M573.3 113.7h0M565.8 103.5h0M558.5 125.9h0M555.3 137.1h0M563.6 145.3h0M555.9 108.0h0M584.9 139.8h0M553.6 106.4h0"/>
<path d="M557.8 126.2h0M552.8 99.6h0M555.9 155.6h0M553.1 146.9h0M569.8 127.2h0M561.4 119.2h0M554.4 101.6h0M560.3 118.9h0M552.5 160.9h0M576.9 139.7h0M554.2 131.1h0M557.8 147.6h0M558.3 162.1h0M555.1 152.1h0M552.4 140.5h0M560.0 142.5h0M561.6 88.4h0M552.4 151.9h0M554.0 102.7h0M553.3 144.8h0M555.5 161.0h0M581.7 87.2h0M553.7 154.3h0M553.7 140.3h0M555.2 151.0h0"/>
<path d="M558.2 138.1h0M557.1 129.0h0M557.4 100.0h0M552.4 143.2h0M555.7 132.7h0M559.5 148.5h0M553.2 134.6h0M562.2 153.1h0M560.7 124.6h0M553.9 130.5h0M557.6 105.8h0M576.4 90.3h0M557.4 140.1h0M566.5 90.9h0M554.3 132.7h0M555.7 140.5h0M557.8 147.6h0M554.2 123.6h0M558.0 104.5h0M552.0 139.1h0M566.4 146.1h0M555.6 152.8h0M556.5 130.3h0M567.1 94.8h0M573.0 93.4h0"/>
<path d="M557.6 161.5h0M552.6 131.9h0M555.5 159.1h0M558.0 155.1h0M568.0 153.2h0M592.0 116.9h0M552.0 158.3h0M558.8 158.9h0M557.6 137.7h0M554.8 153.3h0M553.6 138.2h0M558.7 160.6h0M553.7 139.1h0M555.8 147.1h0M554.2 149.1h0M572.6 135.4h0M554.4 99.3h0M558.9 87.6h0M554.9 98.4h0M556.1 150.1h0M552.0 156.3h0M553.0 162.7h0M552.9 125.4h0M555.9 153.4h0M579.5 120.3h0"/>
<path d="M560.7 129.6h0M556.4 122.9h0M554.5 107.2h0M553.0 120.6h0M586.4 111.8h0M554.2 144.5h0M564.0 129.6h0M553.1 124.2h0M554.7 148.5h0M553.6 149.1h0M558.6 152.5h0M557.6 120.9h0M556.6 133.8h0M551.9 138.4h0M581.9 106.9h0M552.4 125.4h0M561.8 126.7h0M554.2 160.0h0M560.6 93.6h0M554.5 158.4h0M565.7 128.6h0M561.3 147.6h0M553.0 159.8h0M553.4 98.4h0M552.4 150.8h0"/>
<path d="M552.2 160.2h0M557.0 131.7h0M556.9 124.2h0M552.1 144.3h0M560.0 106.8h0M567.0 113.8h0M555.2 154.9h0M561.4 144.1h0M555.1 123.1h0M558.4 91.1h0M575.8 145.1h0M553.7 135.5h0M570.3 113.1h0M554.8 159.1h0M553.0 152.5h0M567.0 120.7h0M553.9 159.9h0M556.2 125.1h0M558.1 154.6h0M553.7 148.2h0M553.1 159.0h0M553.8 125.8h0M557.8 159.9h0M557.1 154.8h0M554.1 107.8h0"/>
<path d="M552.8 132.2h0M576.1 77.2h0M558.8 110.2h0M555.9 126.8h0M561.4 85.3h0M563.3 125.5h0M570.6 117.1h0M560.9 149.8h0M555.0 160.9h0M552.3 119.1h0M560.3 158.6h0M569.9 99.8h0M557.2 115.8h0M552.0 121.2h0M559.1 111.7h0M554.0 163.6h0M559.1 143.9h0M556.6 151.3h0M556.5 134.3h0M555.0 132.0h0M556.1 108.5h0M552.5 161.2h0M552.1 144.5h0M552.9 126.6h0M557.7 97.7h0"/>
<path d="M567.6 140.4h0M553.5 153.2h0M554.7 92.5h0M555.5 139.9h0M555.6 123.5h0M552.1 126.3h0M558.8 146.8h0M570.0 105.9h0M553.2 108.8h0M558.4 127.2h0M554.1 129.5h0M553.8 161.2h0M551.9 141.9h0M558.5 82.0h0M552.2 156.7h0M558.2 82.2h0M560.4 120.0h0M561.2 114.7h0M563.4 133.5h0M555.7 135.7h0M557.6 138.6h0M559.2 104.0h0M563.5 157.8h0M556.8 153.0h0M552.3 157.0h0"/>
<path d="M555.9 115.5h0M573.3 134.4h0M574.4 122.9h0M553.4 160.5h0M553.7 104.9h0M553.2 114.5h0M555.6 103.6h0M554.7 151.9h0M559.6 122.5h0M566.4 151.5h0M555.1 159.2h0M553.8 117.6h0M552.6 100.9h0M553.1 129.3h0M556.9 137.6h0M553.1 145.9h0M553.3 138.8h0M562.7 127.4h0M554.2 140.6h0M555.5 115.4h0M552.8 155.9h0M554.0 161.0h0M572.3 136.5h0M570.4 105.6h0M558.5 100.1h0"/>
<path d="M567.2 156.7h0M555.2 143.7h0M570.9 124.3h0M554.8 122.6h0M554.5 137.0h0M567.4 154.7h0M552.0 99.3h0M555.4 137.0h0M553.9 111.2h0M554.4 142.9h0M560.3 118.6h0M552.1 110.3h0M555.9 163.5h0M557.0 132.7h0M555.2 143.2h0M554.6 159.3h0M555.6 129.8h0M555.8 100.0h0M552.7 102.9h0M557.6 151.7h0M557.8 151.6h0M553.2 109.4h0M556.6 86.9h0M555.8 122.3h0M552.0 156.3h0"/>
<path d="M552.0 163.2h0M555.9 90.4h0M553.9 153.5h0M561.6 137.8h0M562.5 116.3h0M553.0 126.4h0M558.5 159.4h0M564.3 146.9h0M553.4 124.4h0M553.1 152.8h0M556.4 94.0h0M567.8 97.6h0M565.2 149.2h0M552.0 119.6h0M560.7 160.8h0M558.9 156.5h0M558.6 135.1h0M554.4 139.7h0M554.2 129.7h0M554.8 159.1h0M552.3 145.7h0M552.2 119.6h0M558.9 150.3h0M557.9 140.3h0M561.5 128.7h0"/>
<path d="M553.1 154.7h0M551.9 154.1h0M557.7 132.5h0M554.4 143.7h0M573.3 126.5h0M552.6 156.9h0M561.7 153.1h0M553.9 101.7h0M555.2 132.7h0M554.0 144.8h0M556.8 158.6h0M593.0 131.2h0M560.1 109.9h0M552.9 156.2h0M555.4 137.0h0M559.6 124.7h0M557.9 135.7h0M557.4 107.3h0M552.1 129.1h0M552.3 154.5h0M552.2 148.3h0M566.0 151.3h0M552.4 118.1h0M570.9 118.7h0M557.8 157.1h0"/>
<path d="M554.4 133.8h0M573.0 114.2h0M552.3 133.1h0M554.9 140.6h0M554.1 128.1h0M552.0 156.4h0M555.8 111.4h0M552.4 134.6h0M556.2 150.5h0M556.1 161.9h0M554.2 144.1h0M554.4 93.2h0M559.3 138.1h0M565.3 145.8h0M560.2 144.7h0M553.5 156.5h0M561.3 96.0h0M559.2 89.5h0M553.7 153.8h0M559.7 162.3h0M552.1 125.0h0M557.9 163.7h0M552.3 139.8h0M576.6 125.1h0M553.1 159.3h0"/>
<path d="M559.0 131.9h0M552.7 106.7h0M552.0 150.7h0M560.0 141.6h0M554.9 152.6h0M552.8 138.7h0M555.7 92.8h0M561.3 118.8h0M563.1 128.3h0M554.7 160.6h0M552.3 141.3h0M552.0 150.1h0M555.6 156.1h0M552.8 162.8h0M552.0 147.7h0M553.2 160.6h0M553.7 152.4h0M568.3 141.2h0M553.9 151.9h0M559.4 95.0h0M554.5 134.9h0M556.7 113.3h0M554.5 160.4h0M554.6 148.7h0M558.3 133.4h0"/>
<path d="M553.8 106.3h0M558.7 154.7h0M567.0 161.0h0M552.5 164.1h0M553.5 129.2h0M574.4 122.4h0M557.9 109.2h0M553.8 95.7h0M554.2 119.1h0M557.0 160.3h0M553.2 131.2h0M553.2 131.6h0M559.2 142.8h0M552.2 162.4h0M553.4 152.5h0M555.9 126.1h0M553.6 146.7h0M563.0 124.5h0M555.3 120.6h0M570.6 73.8h0M556.5 157.7h0M558.5 110.3h0M566.2 147.2h0M561.7 163.0h0M552.1 146.9h0"/>
<path d="M553.2 129.5h0M553.3 162.8h0M566.1 142.4h0M553.2 150.4h0M552.6 161.4h0M556.7 124.6h0M571.3 111.5h0M555.5 120.3h0M556.5 121.7h0M552.0 99.9h0M561.6 136.0h0M558.1 109.1h0M552.4 139.5h0M552.0 125.3h0M554.7 112.4h0M566.9 134.9h0M552.3 143.8h0M552.8 156.0h0M574.8 106.5h0M559.2 90.4h0M574.3 122.4h0M562.7 145.1h0M562.5 131.4h0M553.9 132.0h0M552.2 111.2h0"/>
<path d="M562.0 157.7h0M568.6 109.5h0M576.7 73.0h0M580.7 101.1h0M557.7 133.7h0M556.9 85.5h0M558.4 121.1h0M560.6 158.6h0M564.1 112.2h0M588.8 102.2h0M552.1 163.8h0M557.5 109.1h0M571.0 97.1h0M553.3 154.9h0M560.4 120.0h0M552.2 111.5h0M553.5 124.0h0M555.9 152.1h0M555.8 98.7h0M554.0 126.7h0M552.1 133.8h0M553.7 158.6h0M562.0 123.3h0M556.2 129.1h0M553.9 129.5h0"/>
<path d="M553.7 138.1h0M553.2 135.2h0M562.9 77.9h0M555.4 87.0h0M576.9 116.0h0M554.0 153.2h0M556.8 108.4h0M559.3 148.5h0M553.3 162.8h0M559.2 112.7h0M553.7 114.3h0M574.3 106.0h0M571.4 127.7h0M567.6 113.2h0M552.5 140.2h0M556.7 106.4h0M559.5 153.7h0M565.0 126.1h0M552.7 149.3h0M553.6 160.6h0M557.5 148.5h0M554.2 149.1h0M564.6 116.2h0M554.4 108.9h0M578.5 115.6h0"/>
<path d="M556.7 112.4h0M556.8 117.6h0M561.8 154.5h0M555.9 125.4h0M554.5 107.2h0M557.6 164.0h0M555.0 97.1h0M575.1 110.4h0M561.1 92.5h0M558.0 79.3h0M554.0 146.9h0M580.3 89.4h0M553.9 163.8h0M555.2 121.3h0M553.7 95.6h0M557.0 163.3h0M596.7 117.1h0M558.2 152.0h0M564.4 79.3h0M557.1 156.7h0M573.2 86.4h0M557.3 124.2h0M561.9 96.2h0M554.7 133.7h0M553.6 128.7h0"/>
</g>
<g stroke="#f26f55" stroke-width="3.0" stroke-linecap="round" stroke-opacity="0.85" fill="none">
<path d="M596.0 109.0h0M578.0 104.0h0M566.0 121.0h0M602.4 93.1h0M610.8 124.4h0M599.0 93.0h0M594.0 114.0h0M578.0 71.0h0M571.0 147.0h0M582.0 96.0h0M580.0 83.0h0M585.0 142.0h0M609.1 85.9h0M633.2 53.4h0M583.0 122.0h0M592.0 74.0h0M608.4 114.3h0M622.4 114.8h0M620.4 105.9h0M603.0 83.0h0M604.3 51.0h0M650.0 47.3h0M633.7 101.5h0M615.1 94.3h0M627.7 89.0h0"/>
<path d="M593.0 93.0h0M588.0 135.0h0M618.2 57.2h0M605.0 123.0h0M606.2 67.3h0M571.0 75.3h0M617.5 58.2h0M645.2 49.3h0M657.3 45.7h0M590.0 69.0h0M580.0 150.0h0M590.0 111.0h0M629.1 136.5h0M578.5 70.8h0M654.4 51.0h0M659.2 83.5h0M588.0 120.0h0M576.0 140.0h0M562.6 77.0h0M620.0 68.0h0M638.0 114.8h0M584.0 131.0h0M635.6 73.8h0M633.0 106.6h0M585.0 106.0h0"/>
<path d="M585.0 87.0h0M574.0 155.0h0M578.0 128.0h0"/>
</g>
<g stroke="#3d9a3f" stroke-width="2.4" stroke-linecap="round" stroke-opacity="0.9" fill="none">
<path d="M561.0 166.0h0M556.0 167.8h0M563.0 166.5h0M553.0 167.0h0M514.0 166.5h0M559.0 167.0h0M520.0 167.0h0M517.0 167.5h0"/>
</g>
<g stroke="#4c6bc6" stroke-width="2.4" stroke-linecap="round" stroke-opacity="0.9" fill="none">
<path d="M529.5 123.5h0M528.8 117.0h0M530.5 126.0h0M529.0 121.0h0"/>
</g>
<text x="657.7" y="50.8" font-size="4.7" text-anchor="start" fill="#222" >H2BU</text>
<text x="654.7" y="56.1" font-size="4.7" text-anchor="start" fill="#222" >H2BC1</text>
<text x="633.2" y="58.5" font-size="4.7" text-anchor="start" fill="#222" >H2BC21</text>
<text x="635.7" y="78.9" font-size="4.7" text-anchor="start" fill="#222" >SFRP5</text>
<text x="659.2" y="88.6" font-size="4.7" text-anchor="start" fill="#222" >MX1</text>
<text x="627.7" y="94.1" font-size="4.7" text-anchor="start" fill="#222" >MDK</text>
<text x="633.7" y="106.6" font-size="4.7" text-anchor="start" fill="#222" >SAA1</text>
<text x="638.0" y="119.9" font-size="4.7" text-anchor="start" fill="#222" >SAA2</text>
<text x="629.1" y="141.6" font-size="4.7" text-anchor="start" fill="#222" >SAA1</text>
<text x="469.7" y="110.6" font-size="4.7" text-anchor="start" fill="#222" >ILK</text>
<text x="460.2" y="114.2" font-size="4.7" text-anchor="start" fill="#222" >INPP5B</text>
<text x="469.3" y="119.9" font-size="4.7" text-anchor="start" fill="#222" >ARHGAP6</text>
<text x="463.1" y="125.9" font-size="4.7" text-anchor="start" fill="#222" >MBNL2</text>
<line x1="528.3" y1="40.0" x2="528.3" y2="176.7" stroke="#3a3a3a" stroke-width="0.85" stroke-dasharray="3,1,1,1"/>
<line x1="550.7" y1="40.0" x2="550.7" y2="176.7" stroke="#3a3a3a" stroke-width="0.85" stroke-dasharray="3,1,1,1"/>
<line x1="450.4" y1="164.4" x2="668.8" y2="164.4" stroke="#3a3a3a" stroke-width="0.85" stroke-dasharray="3,1,1,1"/>
<line x1="450.4" y1="40.0" x2="450.4" y2="177.2" stroke="#555" stroke-width="1" />
<line x1="449.9" y1="176.7" x2="668.8" y2="176.7" stroke="#555" stroke-width="1" />
<line x1="447.4" y1="170.3" x2="450.4" y2="170.3" stroke="#444" stroke-width="1" />
<text x="446.2" y="174.2" font-size="11" text-anchor="end" fill="#1a1a1a" >0</text>
<line x1="447.4" y1="140.7" x2="450.4" y2="140.7" stroke="#444" stroke-width="1" />
<text x="446.2" y="144.6" font-size="11" text-anchor="end" fill="#1a1a1a" >5</text>
<line x1="447.4" y1="111.1" x2="450.4" y2="111.1" stroke="#444" stroke-width="1" />
<text x="446.2" y="115.0" font-size="11" text-anchor="end" fill="#1a1a1a" >10</text>
<line x1="447.4" y1="81.5" x2="450.4" y2="81.5" stroke="#444" stroke-width="1" />
<text x="446.2" y="85.4" font-size="11" text-anchor="end" fill="#1a1a1a" >15</text>
<line x1="447.4" y1="51.9" x2="450.4" y2="51.9" stroke="#444" stroke-width="1" />
<text x="446.2" y="55.8" font-size="11" text-anchor="end" fill="#1a1a1a" >20</text>
<line x1="470.1" y1="176.7" x2="470.1" y2="179.7" stroke="#444" stroke-width="1" />
<text x="470.1" y="193.5" font-size="11" text-anchor="middle" fill="#1a1a1a" >-2</text>
<line x1="539.5" y1="176.7" x2="539.5" y2="179.7" stroke="#444" stroke-width="1" />
<text x="539.5" y="193.5" font-size="11" text-anchor="middle" fill="#1a1a1a" >0</text>
<line x1="608.9" y1="176.7" x2="608.9" y2="179.7" stroke="#444" stroke-width="1" />
<text x="608.9" y="193.5" font-size="11" text-anchor="middle" fill="#1a1a1a" >2</text>
<text x="0" y="0" font-size="11" text-anchor="middle" fill="#1a1a1a" transform="translate(423.0,106.3) rotate(-90)">- Log<tspan font-size="7.5" dy="1.5">10</tspan><tspan dy="-1.5"> q−value</tspan></text>
<text x="553" y="203.2" font-size="10.8" text-anchor="middle" fill="#1a1a1a">Log<tspan font-size="7.5" dy="2.5">2</tspan><tspan dy="-2.5"> fold change</tspan></text>
<text x="450.3" y="36.4" font-size="10.9" fill="#1a1a1a" xml:space="preserve">Down = 1862 proteins,  Up = 743 proteins</text>
<clipPath id="clip166"><circle cx="166.5" cy="281.3" r="49.3"/></clipPath>
<circle cx="166.5" cy="281.3" r="49.3" fill="#5dcff8"/>
<circle cx="230.9" cy="281.3" r="49.3" fill="#f2afcb"/>
<circle cx="230.9" cy="281.3" r="49.3" fill="#a79bc9" clip-path="url(#clip166)"/>
<text x="163.9" y="284.7" font-size="11.2" text-anchor="middle" fill="#1a1a1a" >83</text>
<text x="199.9" y="284.7" font-size="11.2" text-anchor="middle" fill="#1a1a1a" >13</text>
<text x="241.4" y="284.7" font-size="11.2" text-anchor="middle" fill="#1a1a1a" >266</text>
<text x="166.5" y="223.4" font-size="10.8" text-anchor="middle" fill="#1a1a1a" >Pregnant</text>
<text x="234.9" y="223.4" font-size="10.8" text-anchor="middle" fill="#1a1a1a" >Non-pregnant</text>
<clipPath id="clip509"><circle cx="509" cy="281.3" r="49.3"/></clipPath>
<circle cx="509" cy="281.3" r="49.3" fill="#5dcff8"/>
<circle cx="573.4" cy="281.3" r="49.3" fill="#f2afcb"/>
<circle cx="573.4" cy="281.3" r="49.3" fill="#a79bc9" clip-path="url(#clip509)"/>
<text x="507.0" y="284.7" font-size="11.2" text-anchor="middle" fill="#1a1a1a" >198</text>
<text x="542.5" y="284.7" font-size="11.2" text-anchor="middle" fill="#1a1a1a" >12</text>
<text x="584.8" y="284.7" font-size="11.2" text-anchor="middle" fill="#1a1a1a" >423</text>
<text x="509.0" y="223.4" font-size="10.8" text-anchor="middle" fill="#1a1a1a" >Pregnant</text>
<text x="579.8" y="223.4" font-size="10.8" text-anchor="middle" fill="#1a1a1a" >Non-pregnant</text>
<rect x="70.6" y="337.0" width="242.7" height="20.0" fill="#e4e4e4"/>
<text x="192.0" y="350.8" font-size="11" text-anchor="middle" fill="#1a1a1a" >Biological processes</text>
<rect x="424.7" y="337.0" width="242.5" height="20.0" fill="#e4e4e4"/>
<text x="546.0" y="350.8" font-size="11" text-anchor="middle" fill="#1a1a1a" >MSigDB C2 Pathways</text>
<rect x="49.0" y="362.0" width="636.0" height="24.0" fill="#7dd6f9"/>
<text x="367.0" y="378.0" font-size="10.9" text-anchor="middle" font-weight="bold" fill="#050505" >Pregnant</text>
<rect x="49.0" y="571.6" width="636.0" height="24.0" fill="#f6bbdb"/>
<text x="367.0" y="587.6" font-size="10.9" text-anchor="middle" font-weight="bold" fill="#050505" >Non-pregnant</text>
<rect x="49.0" y="779.0" width="636.0" height="23.7" fill="#c5bce8"/>
<text x="367.0" y="794.8" font-size="11.05" text-anchor="middle" font-weight="bold" fill="#050505" >Shared Pregnant/Non-pregnant</text>
<line x1="267.4" y1="389.4" x2="267.4" y2="544.9" stroke="#aaa" stroke-width="0.8" />
<line x1="300.7" y1="389.4" x2="300.7" y2="544.9" stroke="#aaa" stroke-width="0.8" />
<rect x="234.2" y="393.8" width="11.3" height="6.8" fill="#00aeef"/>
<line x1="231.6" y1="397.2" x2="234.2" y2="397.2" stroke="#222" stroke-width="1.0" />
<text x="224.4" y="400.0" font-size="8.45" text-anchor="end" fill="#262626" >response to external stimulus</text>
<rect x="234.2" y="404.6" width="19.8" height="6.8" fill="#00aeef"/>
<line x1="231.6" y1="408.0" x2="234.2" y2="408.0" stroke="#222" stroke-width="1.0" />
<text x="224.4" y="410.8" font-size="8.45" text-anchor="end" fill="#262626" >extracellular matrix organization</text>
<rect x="234.2" y="415.4" width="19.8" height="6.8" fill="#00aeef"/>
<line x1="231.6" y1="418.8" x2="234.2" y2="418.8" stroke="#222" stroke-width="1.0" />
<text x="224.4" y="421.6" font-size="8.45" text-anchor="end" fill="#262626" >extracellular structure organization</text>
<rect x="234.2" y="426.2" width="18.9" height="6.8" fill="#00aeef"/>
<line x1="231.6" y1="429.6" x2="234.2" y2="429.6" stroke="#222" stroke-width="1.0" />
<text x="224.4" y="432.4" font-size="8.45" text-anchor="end" fill="#262626" >external encapsulating structure organization</text>
<rect x="234.2" y="437.1" width="11.3" height="6.8" fill="#00aeef"/>
<line x1="231.6" y1="440.5" x2="234.2" y2="440.5" stroke="#222" stroke-width="1.0" />
<text x="224.4" y="443.3" font-size="8.45" text-anchor="end" fill="#262626" >biological adhesion</text>
<rect x="234.2" y="447.9" width="11.3" height="6.8" fill="#00aeef"/>
<line x1="231.6" y1="451.3" x2="234.2" y2="451.3" stroke="#222" stroke-width="1.0" />
<text x="224.4" y="454.1" font-size="8.45" text-anchor="end" fill="#262626" >cell adhesion</text>
<rect x="234.2" y="458.7" width="10.5" height="6.8" fill="#00aeef"/>
<line x1="231.6" y1="462.1" x2="234.2" y2="462.1" stroke="#222" stroke-width="1.0" />
<text x="224.4" y="464.9" font-size="8.45" text-anchor="end" fill="#262626" >defense response</text>
<rect x="234.2" y="469.5" width="73.2" height="6.8" fill="#00aeef"/>
<line x1="231.6" y1="472.9" x2="234.2" y2="472.9" stroke="#222" stroke-width="1.0" />
<text x="224.4" y="475.7" font-size="8.45" text-anchor="end" fill="#262626" >trans−synaptic signaling, modulating synaptic transmission*</text>
<rect x="234.2" y="480.3" width="10.5" height="6.8" fill="#00aeef"/>
<line x1="231.6" y1="483.7" x2="234.2" y2="483.7" stroke="#222" stroke-width="1.0" />
<text x="224.4" y="486.5" font-size="8.45" text-anchor="end" fill="#262626" >immune response</text>
<rect x="234.2" y="491.1" width="35.9" height="6.8" fill="#00aeef"/>
<line x1="231.6" y1="494.5" x2="234.2" y2="494.5" stroke="#222" stroke-width="1.0" />
<text x="224.4" y="497.3" font-size="8.45" text-anchor="end" fill="#262626" >neuron recognition</text>
<rect x="234.2" y="501.9" width="16.6" height="6.8" fill="#00aeef"/>
<line x1="231.6" y1="505.3" x2="234.2" y2="505.3" stroke="#222" stroke-width="1.0" />
<text x="224.4" y="508.1" font-size="8.45" text-anchor="end" fill="#262626" >axon guidance</text>
<rect x="234.2" y="512.8" width="16.6" height="6.8" fill="#00aeef"/>
<line x1="231.6" y1="516.2" x2="234.2" y2="516.2" stroke="#222" stroke-width="1.0" />
<text x="224.4" y="519.0" font-size="8.45" text-anchor="end" fill="#262626" >neuron projection guidance</text>
<rect x="234.2" y="523.6" width="26.6" height="6.8" fill="#00aeef"/>
<line x1="231.6" y1="527.0" x2="234.2" y2="527.0" stroke="#222" stroke-width="1.0" />
<text x="224.4" y="529.8" font-size="8.45" text-anchor="end" fill="#262626" >response to vitamin</text>
<rect x="234.2" y="534.4" width="13.6" height="6.8" fill="#00aeef"/>
<line x1="231.6" y1="537.8" x2="234.2" y2="537.8" stroke="#222" stroke-width="1.0" />
<text x="224.4" y="540.6" font-size="8.45" text-anchor="end" fill="#262626" >negative regulation of response to external stimulus</text>
<text x="308.9" y="476.5" font-size="7" text-anchor="start" fill="#1a1a1a" >*</text>
<line x1="234.2" y1="389.4" x2="234.2" y2="545.4" stroke="#333" stroke-width="1" />
<line x1="233.7" y1="544.9" x2="307.7" y2="544.9" stroke="#333" stroke-width="1" />
<line x1="234.2" y1="544.9" x2="234.2" y2="547.2" stroke="#333" stroke-width="0.8" />
<text x="234.2" y="554.7" font-size="8.2" text-anchor="middle" fill="#222" >0</text>
<line x1="267.4" y1="544.9" x2="267.4" y2="547.2" stroke="#333" stroke-width="0.8" />
<text x="267.4" y="554.7" font-size="8.2" text-anchor="middle" fill="#222" >5</text>
<line x1="300.7" y1="544.9" x2="300.7" y2="547.2" stroke="#333" stroke-width="0.8" />
<text x="300.7" y="554.7" font-size="8.2" text-anchor="middle" fill="#222" >10</text>
<text x="267.6" y="562.4" font-size="8.3" text-anchor="middle" font-weight="bold" fill="#111" >odds ratio</text>
<line x1="621.1" y1="390.0" x2="621.1" y2="523.2" stroke="#aaa" stroke-width="0.8" />
<line x1="637.7" y1="390.0" x2="637.7" y2="523.2" stroke="#aaa" stroke-width="0.8" />
<line x1="654.3" y1="390.0" x2="654.3" y2="523.2" stroke="#aaa" stroke-width="0.8" />
<rect x="604.5" y="394.2" width="21.4" height="6.9" fill="#00aeef"/>
<line x1="601.9" y1="397.6" x2="604.5" y2="397.6" stroke="#222" stroke-width="1.0" />
<text x="597.4" y="400.4" font-size="8.45" text-anchor="end" fill="#262626" >naba_matrisome</text>
<rect x="604.5" y="405.0" width="35.4" height="6.9" fill="#00aeef"/>
<line x1="601.9" y1="408.5" x2="604.5" y2="408.5" stroke="#222" stroke-width="1.0" />
<text x="597.4" y="411.3" font-size="8.45" text-anchor="end" fill="#262626" >cairo_liver_development_dn</text>
<rect x="604.5" y="415.8" width="28.2" height="6.9" fill="#00aeef"/>
<line x1="601.9" y1="419.3" x2="604.5" y2="419.3" stroke="#222" stroke-width="1.0" />
<text x="597.4" y="422.1" font-size="8.45" text-anchor="end" fill="#262626" >schuetz_breast_cancer_ductal_invasive_up</text>
<rect x="604.5" y="426.6" width="28.2" height="6.9" fill="#00aeef"/>
<line x1="601.9" y1="430.1" x2="604.5" y2="430.1" stroke="#222" stroke-width="1.0" />
<text x="597.4" y="432.9" font-size="8.45" text-anchor="end" fill="#262626" >hsiao_liver_specific_genes</text>
<rect x="604.5" y="437.4" width="64.1" height="6.9" fill="#00aeef"/>
<line x1="601.9" y1="440.9" x2="604.5" y2="440.9" stroke="#222" stroke-width="1.0" />
<text x="597.4" y="443.7" font-size="8.45" text-anchor="end" fill="#262626" >hecker_ifnb1_targets</text>
<rect x="604.5" y="448.2" width="18.1" height="6.9" fill="#00aeef"/>
<line x1="601.9" y1="451.7" x2="604.5" y2="451.7" stroke="#222" stroke-width="1.0" />
<text x="597.4" y="454.5" font-size="8.45" text-anchor="end" fill="#262626" >naba_matrisome_associated</text>
<rect x="604.5" y="459.1" width="28.2" height="6.9" fill="#00aeef"/>
<line x1="601.9" y1="462.5" x2="604.5" y2="462.5" stroke="#222" stroke-width="1.0" />
<text x="597.4" y="465.3" font-size="8.45" text-anchor="end" fill="#262626" >mclachlan_dental_caries_up</text>
<rect x="604.5" y="469.9" width="28.2" height="6.9" fill="#00aeef"/>
<line x1="601.9" y1="473.3" x2="604.5" y2="473.3" stroke="#222" stroke-width="1.0" />
<text x="597.4" y="476.1" font-size="8.45" text-anchor="end" fill="#262626" >naba_core_matrisome</text>
<rect x="604.5" y="480.7" width="30.6" height="6.9" fill="#00aeef"/>
<line x1="601.9" y1="484.1" x2="604.5" y2="484.1" stroke="#222" stroke-width="1.0" />
<text x="597.4" y="486.9" font-size="8.45" text-anchor="end" fill="#262626" >naba_ecm_gylcoproteins</text>
<rect x="604.5" y="491.5" width="26.5" height="6.9" fill="#00aeef"/>
<line x1="601.9" y1="494.9" x2="604.5" y2="494.9" stroke="#222" stroke-width="1.0" />
<text x="597.4" y="497.7" font-size="8.45" text-anchor="end" fill="#262626" >blanco_melo_respiratory_sycytial_virus_infection_a594_cells_up</text>
<rect x="604.5" y="502.3" width="23.9" height="6.9" fill="#00aeef"/>
<line x1="601.9" y1="505.8" x2="604.5" y2="505.8" stroke="#222" stroke-width="1.0" />
<text x="597.4" y="508.6" font-size="8.45" text-anchor="end" fill="#262626" >reactome_extracellular_matrix_organization</text>
<rect x="604.5" y="513.1" width="25.6" height="6.9" fill="#00aeef"/>
<line x1="601.9" y1="516.6" x2="604.5" y2="516.6" stroke="#222" stroke-width="1.0" />
<text x="597.4" y="519.4" font-size="8.45" text-anchor="end" fill="#262626" >blanco_melo_covid19_sars_cov_2_infection_calu3_cells_up</text>
<line x1="604.5" y1="390.0" x2="604.5" y2="523.7" stroke="#333" stroke-width="1" />
<line x1="604.0" y1="523.2" x2="671.5" y2="523.2" stroke="#333" stroke-width="1" />
<line x1="604.5" y1="523.2" x2="604.5" y2="525.5" stroke="#333" stroke-width="0.8" />
<text x="604.5" y="533.0" font-size="8.2" text-anchor="middle" fill="#222" >0</text>
<line x1="621.1" y1="523.2" x2="621.1" y2="525.5" stroke="#333" stroke-width="0.8" />
<text x="621.1" y="533.0" font-size="8.2" text-anchor="middle" fill="#222" >2</text>
<line x1="637.7" y1="523.2" x2="637.7" y2="525.5" stroke="#333" stroke-width="0.8" />
<text x="637.7" y="533.0" font-size="8.2" text-anchor="middle" fill="#222" >4</text>
<line x1="654.3" y1="523.2" x2="654.3" y2="525.5" stroke="#333" stroke-width="0.8" />
<text x="654.3" y="533.0" font-size="8.2" text-anchor="middle" fill="#222" >6</text>
<line x1="670.9" y1="523.2" x2="670.9" y2="525.5" stroke="#333" stroke-width="0.8" />
<text x="670.9" y="533.0" font-size="8.2" text-anchor="middle" fill="#222" >8</text>
<text x="637.1" y="543.1" font-size="8.3" text-anchor="middle" font-weight="bold" fill="#111" >odds ratio</text>
<line x1="258.6" y1="602.3" x2="258.6" y2="747.3" stroke="#aaa" stroke-width="0.8" />
<line x1="282.7" y1="602.3" x2="282.7" y2="747.3" stroke="#aaa" stroke-width="0.8" />
<rect x="234.6" y="606.7" width="43.1" height="7.0" fill="#ee87b8"/>
<line x1="232.0" y1="610.2" x2="234.6" y2="610.2" stroke="#222" stroke-width="1.0" />
<text x="226.1" y="613.0" font-size="8.45" text-anchor="end" fill="#262626" >establishment of protein localization</text>
<rect x="234.6" y="617.5" width="43.1" height="7.0" fill="#ee87b8"/>
<line x1="232.0" y1="621.0" x2="234.6" y2="621.0" stroke="#222" stroke-width="1.0" />
<text x="226.1" y="623.8" font-size="8.45" text-anchor="end" fill="#262626" >protein transport</text>
<rect x="234.6" y="628.4" width="40.6" height="7.0" fill="#ee87b8"/>
<line x1="232.0" y1="631.9" x2="234.6" y2="631.9" stroke="#222" stroke-width="1.0" />
<text x="226.1" y="634.6" font-size="8.45" text-anchor="end" fill="#262626" >cellular protein localization</text>
<rect x="234.6" y="639.2" width="38.2" height="7.0" fill="#ee87b8"/>
<line x1="232.0" y1="642.7" x2="234.6" y2="642.7" stroke="#222" stroke-width="1.0" />
<text x="226.1" y="645.5" font-size="8.45" text-anchor="end" fill="#262626" >protein localization</text>
<rect x="234.6" y="650.0" width="40.6" height="7.0" fill="#ee87b8"/>
<line x1="232.0" y1="653.5" x2="234.6" y2="653.5" stroke="#222" stroke-width="1.0" />
<text x="226.1" y="656.3" font-size="8.45" text-anchor="end" fill="#262626" >cellular macromolecule localization</text>
<rect x="234.6" y="660.8" width="35.8" height="7.0" fill="#ee87b8"/>
<line x1="232.0" y1="664.3" x2="234.6" y2="664.3" stroke="#222" stroke-width="1.0" />
<text x="226.1" y="667.1" font-size="8.45" text-anchor="end" fill="#262626" >macromolecule localization</text>
<rect x="234.6" y="671.7" width="55.0" height="7.0" fill="#ee87b8"/>
<line x1="232.0" y1="675.2" x2="234.6" y2="675.2" stroke="#222" stroke-width="1.0" />
<text x="226.1" y="678.0" font-size="8.45" text-anchor="end" fill="#262626" >peptide biosynthetic process</text>
<rect x="234.6" y="682.5" width="47.9" height="7.0" fill="#ee87b8"/>
<line x1="232.0" y1="686.0" x2="234.6" y2="686.0" stroke="#222" stroke-width="1.0" />
<text x="226.1" y="688.8" font-size="8.45" text-anchor="end" fill="#262626" >intracellular protein transport</text>
<rect x="234.6" y="693.3" width="55.0" height="7.0" fill="#ee87b8"/>
<line x1="232.0" y1="696.8" x2="234.6" y2="696.8" stroke="#222" stroke-width="1.0" />
<text x="226.1" y="699.6" font-size="8.45" text-anchor="end" fill="#262626" >translation</text>
<rect x="234.6" y="704.1" width="38.2" height="7.0" fill="#ee87b8"/>
<line x1="232.0" y1="707.6" x2="234.6" y2="707.6" stroke="#222" stroke-width="1.0" />
<text x="226.1" y="710.4" font-size="8.45" text-anchor="end" fill="#262626" >nitrogen compound transport</text>
<rect x="234.6" y="715.0" width="35.8" height="7.0" fill="#ee87b8"/>
<line x1="232.0" y1="718.5" x2="234.6" y2="718.5" stroke="#222" stroke-width="1.0" />
<text x="226.1" y="721.2" font-size="8.45" text-anchor="end" fill="#262626" >organic substance transport</text>
<rect x="234.6" y="725.8" width="40.6" height="7.0" fill="#ee87b8"/>
<line x1="232.0" y1="729.3" x2="234.6" y2="729.3" stroke="#222" stroke-width="1.0" />
<text x="226.1" y="732.1" font-size="8.45" text-anchor="end" fill="#262626" >intracellular transport</text>
<rect x="234.6" y="736.6" width="33.6" height="7.0" fill="#ee87b8"/>
<line x1="232.0" y1="740.1" x2="234.6" y2="740.1" stroke="#222" stroke-width="1.0" />
<text x="226.1" y="742.9" font-size="8.45" text-anchor="end" fill="#262626" >organonitrogen compound metabolic process</text>
<line x1="234.6" y1="602.3" x2="234.6" y2="747.8" stroke="#333" stroke-width="1" />
<line x1="234.1" y1="747.3" x2="306.9" y2="747.3" stroke="#333" stroke-width="1" />
<line x1="234.6" y1="747.3" x2="234.6" y2="749.6" stroke="#333" stroke-width="0.8" />
<text x="234.6" y="757.1" font-size="8.2" text-anchor="middle" fill="#222" >0</text>
<line x1="258.6" y1="747.3" x2="258.6" y2="749.6" stroke="#333" stroke-width="0.8" />
<text x="258.6" y="757.1" font-size="8.2" text-anchor="middle" fill="#222" >1</text>
<line x1="282.7" y1="747.3" x2="282.7" y2="749.6" stroke="#333" stroke-width="0.8" />
<text x="282.7" y="757.1" font-size="8.2" text-anchor="middle" fill="#222" >2</text>
<line x1="306.8" y1="747.3" x2="306.8" y2="749.6" stroke="#333" stroke-width="0.8" />
<text x="306.8" y="757.1" font-size="8.2" text-anchor="middle" fill="#222" >3</text>
<text x="270.8" y="766.4" font-size="8.3" text-anchor="middle" font-weight="bold" fill="#111" >odds ratio</text>
<line x1="623.7" y1="602.2" x2="623.7" y2="735.4" stroke="#aaa" stroke-width="0.8" />
<line x1="642.7" y1="602.2" x2="642.7" y2="735.4" stroke="#aaa" stroke-width="0.8" />
<line x1="661.7" y1="602.2" x2="661.7" y2="735.4" stroke="#aaa" stroke-width="0.8" />
<rect x="604.7" y="606.4" width="19.7" height="6.9" fill="#ee87b8"/>
<line x1="602.1" y1="609.9" x2="604.7" y2="609.9" stroke="#222" stroke-width="1.0" />
<text x="597.4" y="612.6" font-size="8.45" text-anchor="end" fill="#262626" >diaz_chronic_myelogenous_leukemia_up</text>
<rect x="604.7" y="617.2" width="19.7" height="6.9" fill="#ee87b8"/>
<line x1="602.1" y1="620.6" x2="604.7" y2="620.6" stroke="#222" stroke-width="1.0" />
<text x="597.4" y="623.4" font-size="8.45" text-anchor="end" fill="#262626" >hounkpe_housekeeping_genes</text>
<rect x="604.7" y="627.9" width="32.2" height="6.9" fill="#ee87b8"/>
<line x1="602.1" y1="631.4" x2="604.7" y2="631.4" stroke="#222" stroke-width="1.0" />
<text x="597.4" y="634.2" font-size="8.45" text-anchor="end" fill="#262626" >reactome_platelet_activation_signaling_and_aggregation</text>
<rect x="604.7" y="638.7" width="21.4" height="6.9" fill="#ee87b8"/>
<line x1="602.1" y1="642.2" x2="604.7" y2="642.2" stroke="#222" stroke-width="1.0" />
<text x="597.4" y="645.0" font-size="8.45" text-anchor="end" fill="#262626" >wp_vegfavegfr2_signaling_pathway</text>
<rect x="604.7" y="649.5" width="20.5" height="6.9" fill="#ee87b8"/>
<line x1="602.1" y1="652.9" x2="604.7" y2="652.9" stroke="#222" stroke-width="1.0" />
<text x="597.4" y="655.7" font-size="8.45" text-anchor="end" fill="#262626" >reactome_membrane_trafficking</text>
<rect x="604.7" y="660.2" width="28.3" height="6.9" fill="#ee87b8"/>
<line x1="602.1" y1="663.7" x2="604.7" y2="663.7" stroke="#222" stroke-width="1.0" />
<text x="597.4" y="666.5" font-size="8.45" text-anchor="end" fill="#262626" >kegg_focal_adhesion</text>
<rect x="604.7" y="671.0" width="28.3" height="6.9" fill="#ee87b8"/>
<line x1="602.1" y1="674.5" x2="604.7" y2="674.5" stroke="#222" stroke-width="1.0" />
<text x="597.4" y="677.3" font-size="8.45" text-anchor="end" fill="#262626" >wp_focal_adhesion</text>
<rect x="604.7" y="681.8" width="22.3" height="6.9" fill="#ee87b8"/>
<line x1="602.1" y1="685.2" x2="604.7" y2="685.2" stroke="#222" stroke-width="1.0" />
<text x="597.4" y="688.0" font-size="8.45" text-anchor="end" fill="#262626" >ibrahim_nrf1_up</text>
<rect x="604.7" y="692.6" width="31.0" height="6.9" fill="#ee87b8"/>
<line x1="602.1" y1="696.0" x2="604.7" y2="696.0" stroke="#222" stroke-width="1.0" />
<text x="597.4" y="698.8" font-size="8.45" text-anchor="end" fill="#262626" >kegg_endocytosis</text>
<rect x="604.7" y="703.3" width="34.8" height="6.9" fill="#ee87b8"/>
<line x1="602.1" y1="706.8" x2="604.7" y2="706.8" stroke="#222" stroke-width="1.0" />
<text x="597.4" y="709.6" font-size="8.45" text-anchor="end" fill="#262626" >pid_pdgfrb_pathway</text>
<rect x="604.7" y="714.1" width="57.8" height="6.9" fill="#ee87b8"/>
<line x1="602.1" y1="717.5" x2="604.7" y2="717.5" stroke="#222" stroke-width="1.0" />
<text x="597.4" y="720.3" font-size="8.45" text-anchor="end" fill="#262626" >wp_kit_receptor_signaling_pathway</text>
<rect x="604.7" y="724.9" width="21.7" height="6.9" fill="#ee87b8"/>
<line x1="602.1" y1="728.3" x2="604.7" y2="728.3" stroke="#222" stroke-width="1.0" />
<text x="597.4" y="731.1" font-size="8.45" text-anchor="end" fill="#262626" >wang_tumor_invasiveness_up</text>
<line x1="604.7" y1="602.2" x2="604.7" y2="735.9" stroke="#333" stroke-width="1" />
<line x1="604.2" y1="735.4" x2="671.2" y2="735.4" stroke="#333" stroke-width="1" />
<line x1="604.7" y1="735.4" x2="604.7" y2="737.7" stroke="#333" stroke-width="0.8" />
<text x="604.7" y="745.2" font-size="8.2" text-anchor="middle" fill="#222" >0</text>
<line x1="623.7" y1="735.4" x2="623.7" y2="737.7" stroke="#333" stroke-width="0.8" />
<text x="623.7" y="745.2" font-size="8.2" text-anchor="middle" fill="#222" >2</text>
<line x1="642.7" y1="735.4" x2="642.7" y2="737.7" stroke="#333" stroke-width="0.8" />
<text x="642.7" y="745.2" font-size="8.2" text-anchor="middle" fill="#222" >4</text>
<line x1="661.7" y1="735.4" x2="661.7" y2="737.7" stroke="#333" stroke-width="0.8" />
<text x="661.7" y="745.2" font-size="8.2" text-anchor="middle" fill="#222" >6</text>
<text x="638.6" y="755.7" font-size="8.3" text-anchor="middle" font-weight="bold" fill="#111" >odds ratio</text>
<line x1="243.2" y1="807.0" x2="243.2" y2="952.5" stroke="#bbb" stroke-width="0.8" />
<line x1="252.4" y1="807.0" x2="252.4" y2="952.5" stroke="#bbb" stroke-width="0.8" />
<line x1="261.5" y1="807.0" x2="261.5" y2="952.5" stroke="#bbb" stroke-width="0.8" />
<line x1="279.9" y1="807.0" x2="279.9" y2="952.5" stroke="#bbb" stroke-width="0.8" />
<line x1="289.0" y1="807.0" x2="289.0" y2="952.5" stroke="#bbb" stroke-width="0.8" />
<line x1="298.2" y1="807.0" x2="298.2" y2="952.5" stroke="#bbb" stroke-width="0.8" />
<rect x="239.3" y="811.0" width="52.7" height="6.8" fill="#9a8bd5"/>
<text x="224.2" y="817.2" font-size="8.45" text-anchor="end" fill="#262626" >cell adhesion</text>
<rect x="235.8" y="821.9" width="59.8" height="6.8" fill="#9a8bd5"/>
<text x="224.2" y="828.1" font-size="8.45" text-anchor="end" fill="#262626" >cell morphogenesis involved in differentiation</text>
<rect x="234.0" y="832.8" width="63.7" height="6.8" fill="#9a8bd5"/>
<text x="224.2" y="839.0" font-size="8.45" text-anchor="end" fill="#262626" >axon development</text>
<rect x="242.9" y="843.8" width="49.1" height="6.8" fill="#9a8bd5"/>
<text x="224.2" y="850.0" font-size="8.45" text-anchor="end" fill="#262626" >positive regulation of response to stimulus</text>
<rect x="245.1" y="854.7" width="46.9" height="6.8" fill="#9a8bd5"/>
<text x="224.2" y="860.9" font-size="8.45" text-anchor="end" fill="#262626" >cell surface receptor signaling pathway</text>
<rect x="245.1" y="865.6" width="48.6" height="6.8" fill="#9a8bd5"/>
<text x="224.2" y="871.8" font-size="8.45" text-anchor="end" fill="#262626" >response to organic substance</text>
<rect x="245.1" y="876.5" width="46.9" height="6.8" fill="#9a8bd5"/>
<text x="224.2" y="882.7" font-size="8.45" text-anchor="end" fill="#262626" >response to chemical</text>
<rect x="241.2" y="887.4" width="54.4" height="6.8" fill="#9a8bd5"/>
<text x="224.2" y="893.6" font-size="8.45" text-anchor="end" fill="#262626" >cell morphogenesis</text>
<rect x="239.4" y="898.3" width="59.9" height="6.8" fill="#9a8bd5"/>
<text x="224.2" y="904.5" font-size="8.45" text-anchor="end" fill="#262626" >response to wounding</text>
<rect x="245.1" y="909.3" width="46.9" height="6.8" fill="#9a8bd5"/>
<text x="224.2" y="915.5" font-size="8.45" text-anchor="end" fill="#262626" >locomotion</text>
<rect x="245.1" y="920.2" width="46.9" height="6.8" fill="#9a8bd5"/>
<text x="224.2" y="926.4" font-size="8.45" text-anchor="end" fill="#262626" >positive regulation of signal transduction</text>
<rect x="242.9" y="931.1" width="52.7" height="6.8" fill="#9a8bd5"/>
<text x="224.2" y="937.3" font-size="8.45" text-anchor="end" fill="#262626" >response to cytokine</text>
<rect x="233.9" y="942.0" width="73.3" height="6.8" fill="#9a8bd5"/>
<text x="224.2" y="948.2" font-size="8.45" text-anchor="end" fill="#262626" >blood coagulation</text>
<line x1="270.7" y1="807.0" x2="270.7" y2="952.5" stroke="#222" stroke-width="1.3" />
<line x1="233.9" y1="952.5" x2="307.2" y2="952.5" stroke="#333" stroke-width="1" />
<line x1="234.0" y1="952.5" x2="234.0" y2="955.0" stroke="#333" stroke-width="0.8" />
<line x1="243.2" y1="952.5" x2="243.2" y2="955.0" stroke="#333" stroke-width="0.8" />
<line x1="252.4" y1="952.5" x2="252.4" y2="955.0" stroke="#333" stroke-width="0.8" />
<line x1="261.5" y1="952.5" x2="261.5" y2="955.0" stroke="#333" stroke-width="0.8" />
<line x1="270.7" y1="952.5" x2="270.7" y2="955.0" stroke="#333" stroke-width="0.8" />
<line x1="279.9" y1="952.5" x2="279.9" y2="955.0" stroke="#333" stroke-width="0.8" />
<line x1="289.0" y1="952.5" x2="289.0" y2="955.0" stroke="#333" stroke-width="0.8" />
<line x1="298.2" y1="952.5" x2="298.2" y2="955.0" stroke="#333" stroke-width="0.8" />
<line x1="307.4" y1="952.5" x2="307.4" y2="955.0" stroke="#333" stroke-width="0.8" />
<text x="234.0" y="963.0" font-size="8.2" text-anchor="middle" fill="#222" >2</text>
<text x="252.4" y="963.0" font-size="8.2" text-anchor="middle" fill="#222" >1</text>
<text x="270.7" y="963.0" font-size="8.2" text-anchor="middle" fill="#222" >0</text>
<text x="289.0" y="963.0" font-size="8.2" text-anchor="middle" fill="#222" >1</text>
<text x="307.4" y="963.0" font-size="8.2" text-anchor="middle" fill="#222" >2</text>
<text x="270.7" y="973.2" font-size="8.3" text-anchor="middle" font-weight="bold" fill="#111" >odds ratio</text>
<line x1="613.5" y1="806.3" x2="613.5" y2="941.0" stroke="#bbb" stroke-width="0.8" />
<line x1="624.8" y1="806.3" x2="624.8" y2="941.0" stroke="#bbb" stroke-width="0.8" />
<line x1="647.2" y1="806.3" x2="647.2" y2="941.0" stroke="#bbb" stroke-width="0.8" />
<line x1="658.5" y1="806.3" x2="658.5" y2="941.0" stroke="#bbb" stroke-width="0.8" />
<rect x="627.0" y="810.8" width="13.6" height="6.8" fill="#9a8bd5"/>
<text x="597.4" y="817.0" font-size="8.45" text-anchor="end" fill="#262626" >flechner_biopsy_kidney_transplant_rejected_vs_ok_up</text>
<rect x="627.8" y="821.6" width="14.5" height="6.8" fill="#9a8bd5"/>
<text x="597.4" y="827.8" font-size="8.45" text-anchor="end" fill="#262626" >smith_tert_targets_dn</text>
<rect x="621.8" y="832.5" width="40.1" height="6.8" fill="#9a8bd5"/>
<text x="597.4" y="838.7" font-size="8.45" text-anchor="end" fill="#262626" >reactome_hcmv_late_events</text>
<rect x="629.2" y="843.3" width="12.0" height="6.8" fill="#9a8bd5"/>
<text x="597.4" y="849.5" font-size="8.45" text-anchor="end" fill="#262626" >wp_hippo_signaling_regulation_pathways</text>
<rect x="610.0" y="854.2" width="58.2" height="6.8" fill="#9a8bd5"/>
<text x="597.4" y="860.4" font-size="8.45" text-anchor="end" fill="#262626" >reactome_assembly_of_the_orc_complex_at_the_origin_of_replication</text>
<rect x="629.7" y="865.0" width="10.9" height="6.8" fill="#9a8bd5"/>
<text x="597.4" y="871.2" font-size="8.45" text-anchor="end" fill="#262626" >mikkelsen_mef_lcp_with_h3k4me3</text>
<rect x="631.0" y="875.9" width="10.6" height="6.8" fill="#9a8bd5"/>
<text x="597.4" y="882.1" font-size="8.45" text-anchor="end" fill="#262626" >reactome_response_to_elevated_platelet_cytosolic_ca2</text>
<rect x="627.8" y="886.8" width="15.4" height="6.8" fill="#9a8bd5"/>
<text x="597.4" y="892.9" font-size="8.45" text-anchor="end" fill="#262626" >reactome_mitotic_prophase</text>
<rect x="627.8" y="897.6" width="14.5" height="6.8" fill="#9a8bd5"/>
<text x="597.4" y="903.8" font-size="8.45" text-anchor="end" fill="#262626" >turashvili_breast_ductal_carcinoma_vs_lobular_normal_up</text>
<rect x="628.8" y="908.4" width="15.7" height="6.8" fill="#9a8bd5"/>
<text x="597.4" y="914.6" font-size="8.45" text-anchor="end" fill="#262626" >reactome_hcmv_infection</text>
<rect x="626.4" y="919.3" width="18.1" height="6.8" fill="#9a8bd5"/>
<text x="597.4" y="925.5" font-size="8.45" text-anchor="end" fill="#262626" >zhan_multiple_myeloma_mf_up</text>
<rect x="624.8" y="930.1" width="20.6" height="6.8" fill="#9a8bd5"/>
<text x="597.4" y="936.3" font-size="8.45" text-anchor="end" fill="#262626" >reactome_positive_epigenetic_regulation_of_rrna_expression</text>
<line x1="636.0" y1="806.3" x2="636.0" y2="941.0" stroke="#3a3a44" stroke-width="1.3" />
<line x1="602.5" y1="941.0" x2="669.5" y2="941.0" stroke="#333" stroke-width="1" />
<line x1="602.3" y1="941.0" x2="602.3" y2="943.5" stroke="#333" stroke-width="0.8" />
<line x1="613.5" y1="941.0" x2="613.5" y2="943.5" stroke="#333" stroke-width="0.8" />
<line x1="624.8" y1="941.0" x2="624.8" y2="943.5" stroke="#333" stroke-width="0.8" />
<line x1="636.0" y1="941.0" x2="636.0" y2="943.5" stroke="#333" stroke-width="0.8" />
<line x1="647.2" y1="941.0" x2="647.2" y2="943.5" stroke="#333" stroke-width="0.8" />
<line x1="658.5" y1="941.0" x2="658.5" y2="943.5" stroke="#333" stroke-width="0.8" />
<line x1="669.7" y1="941.0" x2="669.7" y2="943.5" stroke="#333" stroke-width="0.8" />
<text x="602.3" y="951.5" font-size="8.2" text-anchor="middle" fill="#222" >15</text>
<text x="613.5" y="951.5" font-size="8.2" text-anchor="middle" fill="#222" >10</text>
<text x="624.8" y="951.5" font-size="8.2" text-anchor="middle" fill="#222" >5</text>
<text x="636.0" y="951.5" font-size="8.2" text-anchor="middle" fill="#222" >0</text>
<text x="647.2" y="951.5" font-size="8.2" text-anchor="middle" fill="#222" >5</text>
<text x="658.5" y="951.5" font-size="8.2" text-anchor="middle" fill="#222" >10</text>
<text x="669.7" y="951.5" font-size="8.2" text-anchor="middle" fill="#222" >15</text>
<text x="636.0" y="961.3" font-size="8.3" text-anchor="middle" font-weight="bold" fill="#111" >odds ratio</text>
</svg>
</body></html>
